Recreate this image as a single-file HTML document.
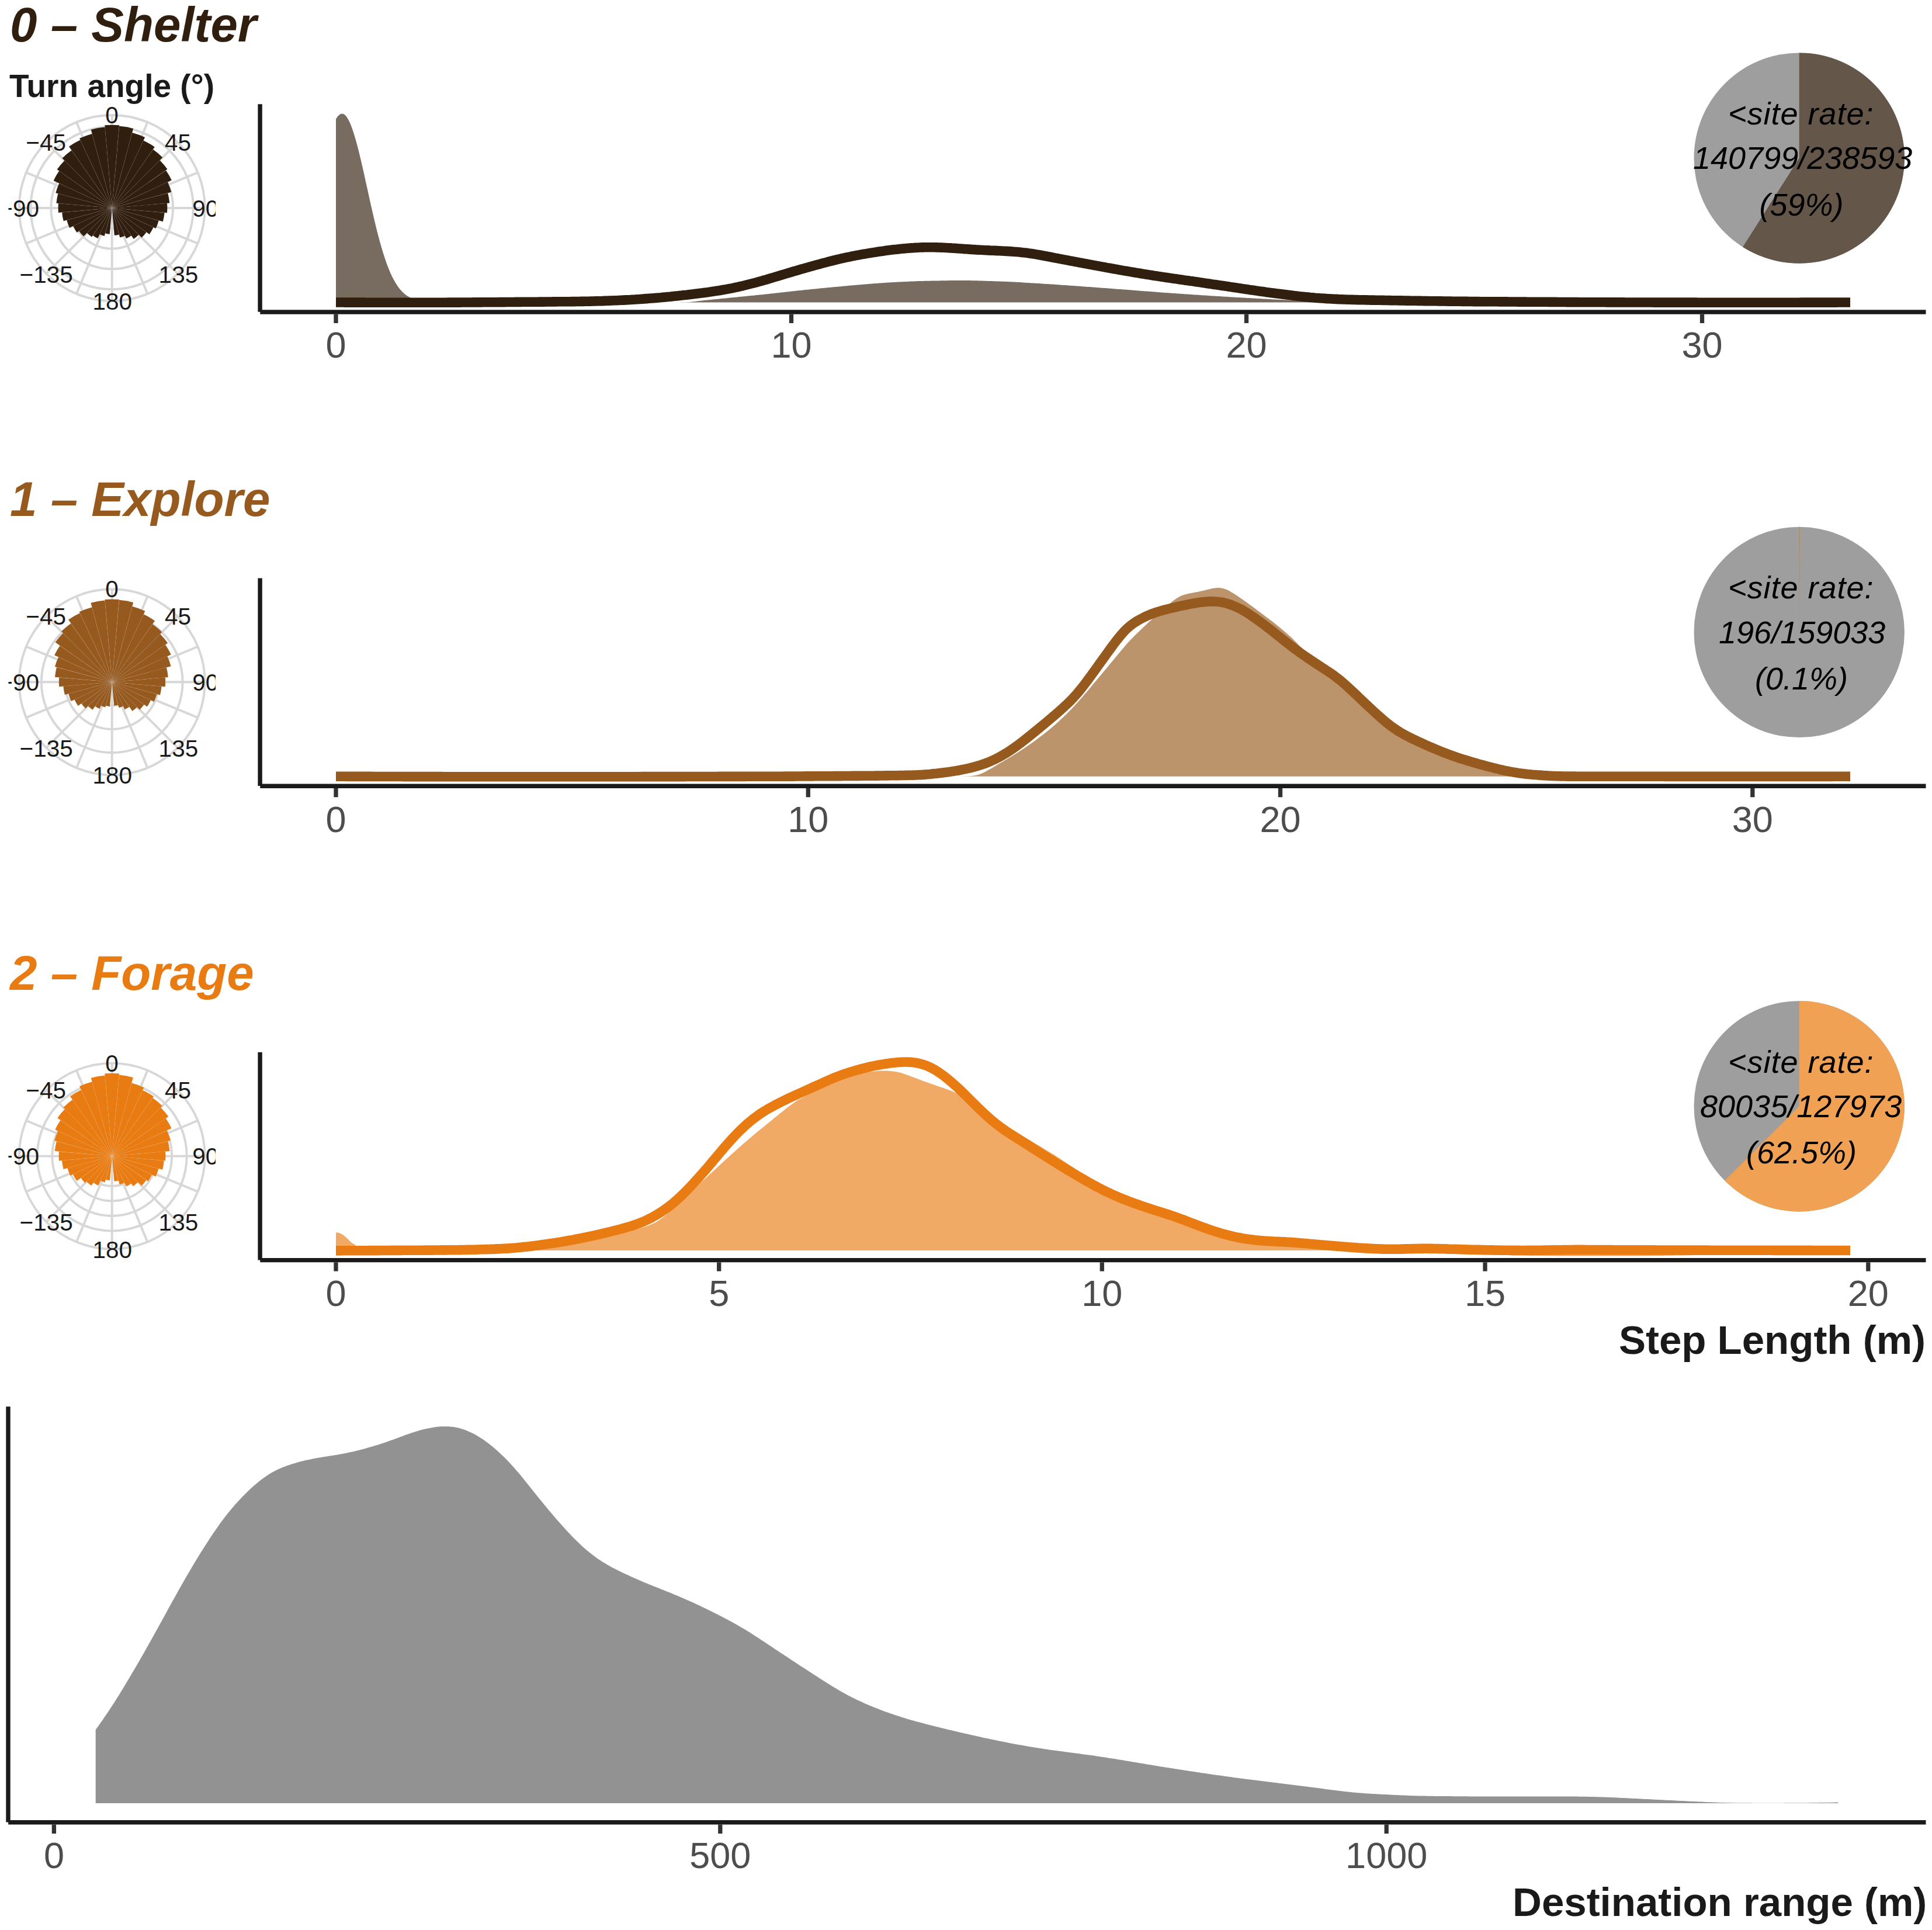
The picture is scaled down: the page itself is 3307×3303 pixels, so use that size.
<!DOCTYPE html>
<html><head><meta charset="utf-8"><title>chart</title>
<style>html,body{margin:0;padding:0;background:#fff}svg{display:block}text{font-family:"Liberation Sans",sans-serif}</style>
</head><body>
<svg width="3307" height="3303" viewBox="0 0 3307 3303">
<defs><clipPath id="pc0"><rect x="14.5" y="170.0" width="354.5" height="390"/></clipPath><clipPath id="pc1"><rect x="14.5" y="981.3" width="354.5" height="390"/></clipPath><clipPath id="pc2"><rect x="14.5" y="1792.6" width="354.5" height="390"/></clipPath></defs>
<rect width="3307" height="3303" fill="#fff"/>
<path d="M575.0,517.5 L575.0,203.8 L578.0,199.2 L581.0,196.2 L584.0,194.7 L587.0,194.7 L590.0,196.3 L593.0,199.5 L596.0,204.2 L599.0,210.3 L602.0,217.7 L605.0,226.4 L608.0,236.2 L611.0,247.0 L614.0,258.6 L617.0,270.9 L620.0,283.8 L623.0,297.1 L626.0,310.7 L629.0,324.3 L632.0,338.0 L635.0,351.4 L638.0,364.6 L641.0,377.5 L644.0,389.9 L647.0,401.7 L650.0,413.0 L653.0,423.6 L656.0,433.6 L659.0,442.8 L662.0,451.4 L665.0,459.3 L668.0,466.5 L671.0,473.0 L674.0,478.8 L677.0,484.1 L680.0,488.8 L683.0,492.9 L686.0,496.6 L689.0,499.8 L692.0,502.5 L695.0,505.0 L698.0,507.0 L701.0,508.8 L704.0,510.3 L707.0,511.6 L710.0,512.6 L713.0,513.5 L716.0,514.3 L719.0,514.9 L722.0,515.4 L725.0,515.8 L728.0,516.2 L731.0,516.5 L734.0,516.7 L737.0,516.9 L740.0,517.0 L743.0,517.1 L746.0,517.2 L749.0,517.3 L752.0,517.3 L755.0,517.4 L758.0,517.4 L761.0,517.4 L764.0,517.4 L767.0,517.5 L770.0,517.5 L773.0,517.5 L776.0,517.5 L779.0,517.5 L782.0,517.5 L785.0,517.5 L788.0,517.5 L791.0,517.5 L794.0,517.5 L797.0,517.5 L800.0,517.5 L803.0,517.5 L806.0,517.5 L809.0,517.5 L812.0,517.5 L815.0,517.5 L818.0,517.5 L821.0,517.5 L824.0,517.5 L827.0,517.5 L830.0,517.5 L833.0,517.5 L836.0,517.5 L839.0,517.5 L842.0,517.5 L845.0,517.5 L848.0,517.5 L851.0,517.5 L854.0,517.5 L857.0,517.5 L860.0,517.5 L863.0,517.5 L866.0,517.5 L869.0,517.5 L872.0,517.5 L875.0,517.5 L878.0,517.5 L881.0,517.5 L884.0,517.5 L887.0,517.5 L890.0,517.5 L893.0,517.5 L896.0,517.5 L899.0,517.5 L902.0,517.5 L905.0,517.5 L908.0,517.5 L911.0,517.5 L914.0,517.5 L917.0,517.5 L920.0,517.5 L923.0,517.5 L926.0,517.5 L929.0,517.5 L932.0,517.5 L935.0,517.5 L938.0,517.5 L941.0,517.5 L944.0,517.5 L947.0,517.5 L950.0,517.5 L953.0,517.5 L956.0,517.5 L959.0,517.5 L962.0,517.5 L965.0,517.5 L968.0,517.5 L971.0,517.5 L974.0,517.5 L977.0,517.5 L980.0,517.5 L983.0,517.5 L986.0,517.5 L989.0,517.5 L992.0,517.5 L995.0,517.5 L998.0,517.5 L1001.0,517.5 L1004.0,517.5 L1007.0,517.5 L1010.0,517.5 L1013.0,517.5 L1016.0,517.5 L1019.0,517.5 L1022.0,517.5 L1025.0,517.5 L1028.0,517.5 L1031.0,517.5 L1034.0,517.5 L1037.0,517.5 L1040.0,517.5 L1043.0,517.5 L1046.0,517.5 L1049.0,517.5 L1052.0,517.5 L1055.0,517.5 L1058.0,517.5 L1061.0,517.5 L1064.0,517.5 L1067.0,517.5 L1070.0,517.5 L1073.0,517.5 L1076.0,517.5 L1079.0,517.5 L1082.0,517.5 L1085.0,517.5 L1088.0,517.5 L1091.0,517.5 L1094.0,517.5 L1097.0,517.5 L1100.0,517.5 L1103.0,517.5 L1106.0,517.5 L1109.0,517.5 L1112.0,517.5 L1115.0,517.5 L1118.0,517.5 L1121.0,517.5 L1124.0,517.5 L1127.0,517.5 L1130.0,517.5 L1133.0,517.5 L1136.0,517.5 L1139.0,517.4 L1142.0,517.4 L1145.0,517.4 L1148.0,517.4 L1151.0,517.4 L1154.0,517.4 L1157.0,517.4 L1160.0,517.4 L1163.0,517.4 L1166.0,517.3 L1169.0,517.3 L1172.0,517.3 L1175.0,517.3 L1178.0,517.1 L1181.0,516.9 L1184.0,516.6 L1187.0,516.3 L1190.0,516.0 L1193.0,515.6 L1196.0,515.2 L1199.0,514.8 L1202.0,514.4 L1205.0,514.1 L1208.0,513.8 L1211.0,513.5 L1214.0,513.2 L1217.0,512.9 L1220.0,512.6 L1223.0,512.3 L1226.0,512.0 L1229.0,511.7 L1232.0,511.4 L1235.0,511.1 L1238.0,510.8 L1241.0,510.5 L1244.0,510.2 L1247.0,509.9 L1250.0,509.6 L1253.0,509.3 L1256.0,509.0 L1259.0,508.7 L1262.0,508.4 L1265.0,508.1 L1268.0,507.8 L1271.0,507.5 L1274.0,507.2 L1277.0,506.9 L1280.0,506.6 L1283.0,506.3 L1286.0,506.0 L1289.0,505.7 L1292.0,505.4 L1295.0,505.1 L1298.0,504.8 L1301.0,504.5 L1304.0,504.2 L1307.0,503.9 L1310.0,503.5 L1313.0,503.2 L1316.0,502.9 L1319.0,502.6 L1322.0,502.2 L1325.0,501.9 L1328.0,501.6 L1331.0,501.2 L1334.0,500.9 L1337.0,500.5 L1340.0,500.2 L1343.0,499.9 L1346.0,499.5 L1349.0,499.2 L1352.0,498.9 L1355.0,498.6 L1358.0,498.2 L1361.0,497.9 L1364.0,497.6 L1367.0,497.3 L1370.0,497.0 L1373.0,496.7 L1376.0,496.3 L1379.0,496.0 L1382.0,495.7 L1385.0,495.4 L1388.0,495.1 L1391.0,494.8 L1394.0,494.5 L1397.0,494.2 L1400.0,493.9 L1403.0,493.6 L1406.0,493.3 L1409.0,493.0 L1412.0,492.7 L1415.0,492.4 L1418.0,492.1 L1421.0,491.9 L1424.0,491.6 L1427.0,491.3 L1430.0,491.0 L1433.0,490.7 L1436.0,490.5 L1439.0,490.2 L1442.0,489.9 L1445.0,489.6 L1448.0,489.4 L1451.0,489.1 L1454.0,488.8 L1457.0,488.5 L1460.0,488.3 L1463.0,488.0 L1466.0,487.7 L1469.0,487.5 L1472.0,487.2 L1475.0,487.0 L1478.0,486.7 L1481.0,486.5 L1484.0,486.2 L1487.0,486.0 L1490.0,485.7 L1493.0,485.5 L1496.0,485.3 L1499.0,485.1 L1502.0,484.9 L1505.0,484.6 L1508.0,484.4 L1511.0,484.2 L1514.0,484.0 L1517.0,483.8 L1520.0,483.6 L1523.0,483.4 L1526.0,483.3 L1529.0,483.1 L1532.0,482.9 L1535.0,482.8 L1538.0,482.6 L1541.0,482.5 L1544.0,482.3 L1547.0,482.2 L1550.0,482.0 L1553.0,481.9 L1556.0,481.7 L1559.0,481.6 L1562.0,481.5 L1565.0,481.4 L1568.0,481.2 L1571.0,481.1 L1574.0,481.1 L1577.0,481.0 L1580.0,480.9 L1583.0,480.8 L1586.0,480.8 L1589.0,480.7 L1592.0,480.7 L1595.0,480.6 L1598.0,480.5 L1601.0,480.5 L1604.0,480.4 L1607.0,480.4 L1610.0,480.3 L1613.0,480.3 L1616.0,480.2 L1619.0,480.2 L1622.0,480.2 L1625.0,480.1 L1628.0,480.1 L1631.0,480.1 L1634.0,480.0 L1637.0,480.0 L1640.0,480.0 L1643.0,480.0 L1646.0,480.0 L1649.0,480.0 L1652.0,480.0 L1655.0,480.0 L1658.0,480.1 L1661.0,480.1 L1664.0,480.2 L1667.0,480.2 L1670.0,480.3 L1673.0,480.3 L1676.0,480.4 L1679.0,480.5 L1682.0,480.6 L1685.0,480.7 L1688.0,480.8 L1691.0,480.9 L1694.0,481.0 L1697.0,481.1 L1700.0,481.2 L1703.0,481.3 L1706.0,481.4 L1709.0,481.5 L1712.0,481.6 L1715.0,481.7 L1718.0,481.8 L1721.0,481.9 L1724.0,482.1 L1727.0,482.2 L1730.0,482.3 L1733.0,482.5 L1736.0,482.6 L1739.0,482.8 L1742.0,483.0 L1745.0,483.1 L1748.0,483.3 L1751.0,483.5 L1754.0,483.7 L1757.0,483.9 L1760.0,484.0 L1763.0,484.2 L1766.0,484.4 L1769.0,484.6 L1772.0,484.8 L1775.0,484.9 L1778.0,485.1 L1781.0,485.3 L1784.0,485.5 L1787.0,485.7 L1790.0,485.9 L1793.0,486.1 L1796.0,486.2 L1799.0,486.4 L1802.0,486.6 L1805.0,486.8 L1808.0,487.0 L1811.0,487.2 L1814.0,487.4 L1817.0,487.7 L1820.0,487.9 L1823.0,488.1 L1826.0,488.3 L1829.0,488.5 L1832.0,488.7 L1835.0,488.9 L1838.0,489.1 L1841.0,489.4 L1844.0,489.6 L1847.0,489.8 L1850.0,490.0 L1853.0,490.2 L1856.0,490.5 L1859.0,490.7 L1862.0,490.9 L1865.0,491.1 L1868.0,491.3 L1871.0,491.6 L1874.0,491.8 L1877.0,492.0 L1880.0,492.2 L1883.0,492.4 L1886.0,492.7 L1889.0,492.9 L1892.0,493.1 L1895.0,493.3 L1898.0,493.6 L1901.0,493.8 L1904.0,494.0 L1907.0,494.2 L1910.0,494.4 L1913.0,494.7 L1916.0,494.9 L1919.0,495.1 L1922.0,495.4 L1925.0,495.6 L1928.0,495.8 L1931.0,496.0 L1934.0,496.3 L1937.0,496.5 L1940.0,496.7 L1943.0,497.0 L1946.0,497.2 L1949.0,497.5 L1952.0,497.7 L1955.0,497.9 L1958.0,498.2 L1961.0,498.4 L1964.0,498.6 L1967.0,498.8 L1970.0,499.1 L1973.0,499.3 L1976.0,499.5 L1979.0,499.8 L1982.0,500.0 L1985.0,500.2 L1988.0,500.4 L1991.0,500.7 L1994.0,500.9 L1997.0,501.1 L2000.0,501.3 L2003.0,501.5 L2006.0,501.7 L2009.0,501.9 L2012.0,502.1 L2015.0,502.4 L2018.0,502.6 L2021.0,502.8 L2024.0,503.0 L2027.0,503.2 L2030.0,503.4 L2033.0,503.6 L2036.0,503.8 L2039.0,504.0 L2042.0,504.2 L2045.0,504.4 L2048.0,504.6 L2051.0,504.8 L2054.0,505.0 L2057.0,505.2 L2060.0,505.4 L2063.0,505.6 L2066.0,505.8 L2069.0,506.0 L2072.0,506.2 L2075.0,506.4 L2078.0,506.6 L2081.0,506.7 L2084.0,506.9 L2087.0,507.1 L2090.0,507.3 L2093.0,507.5 L2096.0,507.7 L2099.0,507.8 L2102.0,508.0 L2105.0,508.2 L2108.0,508.4 L2111.0,508.6 L2114.0,508.7 L2117.0,508.9 L2120.0,509.1 L2123.0,509.3 L2126.0,509.4 L2129.0,509.6 L2132.0,509.8 L2135.0,510.0 L2138.0,510.1 L2141.0,510.3 L2144.0,510.5 L2147.0,510.6 L2150.0,510.8 L2153.0,511.0 L2156.0,511.1 L2159.0,511.3 L2162.0,511.5 L2165.0,511.6 L2168.0,511.8 L2171.0,511.9 L2174.0,512.1 L2177.0,512.2 L2180.0,512.4 L2183.0,512.5 L2186.0,512.7 L2189.0,512.8 L2192.0,512.9 L2195.0,513.1 L2198.0,513.2 L2201.0,513.3 L2204.0,513.5 L2207.0,513.6 L2210.0,513.7 L2213.0,513.9 L2216.0,514.0 L2219.0,514.1 L2222.0,514.2 L2225.0,514.4 L2228.0,514.5 L2231.0,514.6 L2234.0,514.7 L2237.0,514.8 L2240.0,515.0 L2243.0,515.1 L2246.0,515.2 L2249.0,515.3 L2252.0,515.4 L2255.0,515.5 L2258.0,515.6 L2261.0,515.7 L2264.0,515.8 L2267.0,515.9 L2270.0,516.0 L2273.0,516.1 L2276.0,516.2 L2279.0,516.2 L2282.0,516.3 L2285.0,516.4 L2288.0,516.5 L2291.0,516.5 L2294.0,516.6 L2297.0,516.6 L2300.0,516.7 L2303.0,516.8 L2306.0,516.8 L2309.0,516.9 L2312.0,516.9 L2315.0,517.0 L2318.0,517.1 L2321.0,517.1 L2324.0,517.2 L2327.0,517.2 L2330.0,517.3 L2333.0,517.3 L2336.0,517.3 L2339.0,517.4 L2342.0,517.4 L2345.0,517.4 L2348.0,517.5 L2351.0,517.5 L2354.0,517.5 L2357.0,517.5 L2360.0,517.5 L2363.0,517.5 L2366.0,517.5 L2369.0,517.5 L2372.0,517.5 L2375.0,517.5 L2378.0,517.5 L2381.0,517.5 L2384.0,517.5 L2387.0,517.5 L2390.0,517.5 L2393.0,517.5 L2396.0,517.5 L2399.0,517.5 L2402.0,517.5 L2405.0,517.5 L2408.0,517.5 L2411.0,517.5 L2414.0,517.5 L2417.0,517.5 L2420.0,517.5 L2423.0,517.5 L2426.0,517.5 L2429.0,517.5 L2432.0,517.5 L2435.0,517.5 L2438.0,517.5 L2441.0,517.5 L2444.0,517.5 L2447.0,517.5 L2450.0,517.5 L2453.0,517.5 L2456.0,517.5 L2459.0,517.5 L2462.0,517.5 L2465.0,517.5 L2468.0,517.5 L2471.0,517.5 L2474.0,517.5 L2477.0,517.5 L2480.0,517.5 L2483.0,517.5 L2486.0,517.5 L2489.0,517.5 L2492.0,517.5 L2495.0,517.5 L2498.0,517.5 L2501.0,517.5 L2504.0,517.5 L2507.0,517.5 L2510.0,517.5 L2513.0,517.5 L2516.0,517.5 L2519.0,517.5 L2522.0,517.5 L2525.0,517.5 L2528.0,517.5 L2531.0,517.5 L2534.0,517.5 L2537.0,517.5 L2540.0,517.5 L2543.0,517.5 L2546.0,517.5 L2549.0,517.5 L2552.0,517.5 L2555.0,517.5 L2558.0,517.5 L2561.0,517.5 L2564.0,517.5 L2567.0,517.5 L2570.0,517.5 L2573.0,517.5 L2576.0,517.5 L2579.0,517.5 L2582.0,517.5 L2585.0,517.5 L2588.0,517.5 L2591.0,517.5 L2594.0,517.5 L2597.0,517.5 L2600.0,517.5 L2603.0,517.5 L2606.0,517.5 L2609.0,517.5 L2612.0,517.5 L2615.0,517.5 L2618.0,517.5 L2621.0,517.5 L2624.0,517.5 L2627.0,517.5 L2630.0,517.5 L2633.0,517.5 L2636.0,517.5 L2639.0,517.5 L2642.0,517.5 L2645.0,517.5 L2648.0,517.5 L2651.0,517.5 L2654.0,517.5 L2657.0,517.5 L2660.0,517.5 L2663.0,517.5 L2666.0,517.5 L2669.0,517.5 L2672.0,517.5 L2675.0,517.5 L2678.0,517.5 L2681.0,517.5 L2684.0,517.5 L2687.0,517.5 L2690.0,517.5 L2693.0,517.5 L2696.0,517.5 L2699.0,517.5 L2702.0,517.5 L2705.0,517.5 L2708.0,517.5 L2711.0,517.5 L2714.0,517.5 L2717.0,517.5 L2720.0,517.5 L2723.0,517.5 L2726.0,517.5 L2729.0,517.5 L2732.0,517.5 L2735.0,517.5 L2738.0,517.5 L2741.0,517.5 L2744.0,517.5 L2747.0,517.5 L2750.0,517.5 L2753.0,517.5 L2756.0,517.5 L2759.0,517.5 L2762.0,517.5 L2765.0,517.5 L2768.0,517.5 L2771.0,517.5 L2774.0,517.5 L2777.0,517.5 L2780.0,517.5 L2783.0,517.5 L2786.0,517.5 L2789.0,517.5 L2792.0,517.5 L2795.0,517.5 L2798.0,517.5 L2801.0,517.5 L2804.0,517.5 L2807.0,517.5 L2810.0,517.5 L2813.0,517.5 L2816.0,517.5 L2819.0,517.5 L2822.0,517.5 L2825.0,517.5 L2828.0,517.5 L2831.0,517.5 L2834.0,517.5 L2837.0,517.5 L2840.0,517.5 L2843.0,517.5 L2846.0,517.5 L2849.0,517.5 L2852.0,517.5 L2855.0,517.5 L2858.0,517.5 L2861.0,517.5 L2864.0,517.5 L2867.0,517.5 L2870.0,517.5 L2873.0,517.5 L2876.0,517.5 L2879.0,517.5 L2882.0,517.5 L2885.0,517.5 L2888.0,517.5 L2891.0,517.5 L2894.0,517.5 L2897.0,517.5 L2900.0,517.5 L2903.0,517.5 L2906.0,517.5 L2909.0,517.5 L2912.0,517.5 L2915.0,517.5 L2918.0,517.5 L2921.0,517.5 L2924.0,517.5 L2927.0,517.5 L2930.0,517.5 L2933.0,517.5 L2936.0,517.5 L2939.0,517.5 L2942.0,517.5 L2945.0,517.5 L2948.0,517.5 L2951.0,517.5 L2954.0,517.5 L2957.0,517.5 L2960.0,517.5 L2963.0,517.5 L2966.0,517.5 L2969.0,517.5 L2972.0,517.5 L2975.0,517.5 L2978.0,517.5 L2981.0,517.5 L2984.0,517.5 L2987.0,517.5 L2990.0,517.5 L2993.0,517.5 L2996.0,517.5 L2999.0,517.5 L3002.0,517.5 L3005.0,517.5 L3008.0,517.5 L3011.0,517.5 L3014.0,517.5 L3017.0,517.5 L3020.0,517.5 L3023.0,517.5 L3026.0,517.5 L3029.0,517.5 L3032.0,517.5 L3035.0,517.5 L3038.0,517.5 L3041.0,517.5 L3044.0,517.5 L3047.0,517.5 L3050.0,517.5 L3053.0,517.5 L3056.0,517.5 L3059.0,517.5 L3062.0,517.5 L3065.0,517.5 L3068.0,517.5 L3071.0,517.5 L3074.0,517.5 L3077.0,517.5 L3080.0,517.5 L3083.0,517.5 L3086.0,517.5 L3089.0,517.5 L3092.0,517.5 L3095.0,517.5 L3098.0,517.5 L3101.0,517.5 L3104.0,517.5 L3107.0,517.5 L3110.0,517.5 L3113.0,517.5 L3116.0,517.5 L3119.0,517.5 L3122.0,517.5 L3125.0,517.5 L3128.0,517.5 L3131.0,517.5 L3134.0,517.5 L3137.0,517.5 L3140.0,517.5 L3143.0,517.5 L3146.0,517.5 L3149.0,517.5 L3152.0,517.5 L3155.0,517.5 L3158.0,517.5 L3161.0,517.5 L3164.0,517.5 L3167.0,517.5 L3167.0,517.5Z" fill="#786c60"/>
<path d="M575.0,517.5 L579.0,517.5 L583.0,517.5 L587.0,517.5 L591.0,517.6 L595.0,517.6 L599.0,517.6 L603.0,517.6 L607.0,517.6 L611.0,517.6 L615.0,517.6 L619.0,517.6 L623.0,517.6 L627.0,517.7 L631.0,517.7 L635.0,517.7 L639.0,517.7 L643.0,517.7 L647.0,517.7 L651.0,517.7 L655.0,517.7 L659.0,517.7 L663.0,517.7 L667.0,517.7 L671.0,517.7 L675.0,517.7 L679.0,517.7 L683.0,517.8 L687.0,517.8 L691.0,517.8 L695.0,517.8 L699.0,517.8 L703.0,517.8 L707.0,517.8 L711.0,517.8 L715.0,517.8 L719.0,517.7 L723.0,517.7 L727.0,517.7 L731.0,517.7 L735.0,517.7 L739.0,517.7 L743.0,517.7 L747.0,517.7 L751.0,517.7 L755.0,517.7 L759.0,517.7 L763.0,517.7 L767.0,517.6 L771.0,517.6 L775.0,517.6 L779.0,517.6 L783.0,517.6 L787.0,517.6 L791.0,517.5 L795.0,517.5 L799.0,517.5 L803.0,517.5 L807.0,517.5 L811.0,517.4 L815.0,517.4 L819.0,517.4 L823.0,517.4 L827.0,517.3 L831.0,517.3 L835.0,517.3 L839.0,517.2 L843.0,517.2 L847.0,517.2 L851.0,517.2 L855.0,517.1 L859.0,517.1 L863.0,517.1 L867.0,517.0 L871.0,517.0 L875.0,517.0 L879.0,517.0 L883.0,516.9 L887.0,516.9 L891.0,516.9 L895.0,516.8 L899.0,516.8 L903.0,516.8 L907.0,516.7 L911.0,516.7 L915.0,516.7 L919.0,516.7 L923.0,516.6 L927.0,516.6 L931.0,516.6 L935.0,516.5 L939.0,516.5 L943.0,516.5 L947.0,516.4 L951.0,516.4 L955.0,516.3 L959.0,516.3 L963.0,516.3 L967.0,516.2 L971.0,516.2 L975.0,516.2 L979.0,516.1 L983.0,516.1 L987.0,516.0 L991.0,516.0 L995.0,515.9 L999.0,515.9 L1003.0,515.8 L1007.0,515.7 L1011.0,515.6 L1015.0,515.5 L1019.0,515.4 L1023.0,515.3 L1027.0,515.2 L1031.0,515.1 L1035.0,514.9 L1039.0,514.8 L1043.0,514.6 L1047.0,514.5 L1051.0,514.3 L1055.0,514.2 L1059.0,514.0 L1063.0,513.8 L1067.0,513.6 L1071.0,513.4 L1075.0,513.2 L1079.0,513.0 L1083.0,512.7 L1087.0,512.5 L1091.0,512.2 L1095.0,512.0 L1099.0,511.7 L1103.0,511.4 L1107.0,511.1 L1111.0,510.8 L1115.0,510.5 L1119.0,510.2 L1123.0,509.9 L1127.0,509.5 L1131.0,509.2 L1135.0,508.8 L1139.0,508.4 L1143.0,508.0 L1147.0,507.7 L1151.0,507.2 L1155.0,506.8 L1159.0,506.4 L1163.0,506.0 L1167.0,505.6 L1171.0,505.1 L1175.0,504.7 L1179.0,504.2 L1183.0,503.7 L1187.0,503.3 L1191.0,502.8 L1195.0,502.3 L1199.0,501.8 L1203.0,501.3 L1207.0,500.7 L1211.0,500.2 L1215.0,499.6 L1219.0,499.0 L1223.0,498.4 L1227.0,497.8 L1231.0,497.2 L1235.0,496.5 L1239.0,495.8 L1243.0,495.1 L1247.0,494.3 L1251.0,493.6 L1255.0,492.8 L1259.0,491.9 L1263.0,491.1 L1267.0,490.2 L1271.0,489.3 L1275.0,488.3 L1279.0,487.3 L1283.0,486.3 L1287.0,485.3 L1291.0,484.3 L1295.0,483.2 L1299.0,482.1 L1303.0,481.0 L1307.0,479.8 L1311.0,478.7 L1315.0,477.5 L1319.0,476.3 L1323.0,475.1 L1327.0,473.9 L1331.0,472.7 L1335.0,471.5 L1339.0,470.3 L1343.0,469.1 L1347.0,467.9 L1351.0,466.7 L1355.0,465.5 L1359.0,464.3 L1363.0,463.2 L1367.0,462.0 L1371.0,460.8 L1375.0,459.7 L1379.0,458.6 L1383.0,457.4 L1387.0,456.3 L1391.0,455.2 L1395.0,454.1 L1399.0,453.0 L1403.0,451.9 L1407.0,450.8 L1411.0,449.7 L1415.0,448.7 L1419.0,447.6 L1423.0,446.6 L1427.0,445.6 L1431.0,444.6 L1435.0,443.7 L1439.0,442.7 L1443.0,441.8 L1447.0,440.9 L1451.0,440.1 L1455.0,439.3 L1459.0,438.4 L1463.0,437.7 L1467.0,436.9 L1471.0,436.2 L1475.0,435.4 L1479.0,434.7 L1483.0,434.1 L1487.0,433.4 L1491.0,432.7 L1495.0,432.1 L1499.0,431.5 L1503.0,430.8 L1507.0,430.2 L1511.0,429.7 L1515.0,429.1 L1519.0,428.6 L1523.0,428.1 L1527.0,427.6 L1531.0,427.1 L1535.0,426.7 L1539.0,426.2 L1543.0,425.8 L1547.0,425.4 L1551.0,425.1 L1555.0,424.7 L1559.0,424.4 L1563.0,424.2 L1567.0,423.9 L1571.0,423.7 L1575.0,423.5 L1579.0,423.4 L1583.0,423.3 L1587.0,423.3 L1591.0,423.2 L1595.0,423.3 L1599.0,423.3 L1603.0,423.4 L1607.0,423.5 L1611.0,423.6 L1615.0,423.8 L1619.0,424.0 L1623.0,424.2 L1627.0,424.4 L1631.0,424.7 L1635.0,424.9 L1639.0,425.2 L1643.0,425.5 L1647.0,425.8 L1651.0,426.1 L1655.0,426.3 L1659.0,426.6 L1663.0,426.9 L1667.0,427.1 L1671.0,427.4 L1675.0,427.6 L1679.0,427.8 L1683.0,428.0 L1687.0,428.2 L1691.0,428.4 L1695.0,428.6 L1699.0,428.7 L1703.0,428.9 L1707.0,429.1 L1711.0,429.3 L1715.0,429.5 L1719.0,429.7 L1723.0,429.9 L1727.0,430.1 L1731.0,430.4 L1735.0,430.7 L1739.0,431.0 L1743.0,431.3 L1747.0,431.7 L1751.0,432.2 L1755.0,432.6 L1759.0,433.1 L1763.0,433.7 L1767.0,434.3 L1771.0,434.9 L1775.0,435.6 L1779.0,436.3 L1783.0,437.0 L1787.0,437.8 L1791.0,438.5 L1795.0,439.3 L1799.0,440.0 L1803.0,440.8 L1807.0,441.6 L1811.0,442.3 L1815.0,443.1 L1819.0,443.9 L1823.0,444.6 L1827.0,445.4 L1831.0,446.2 L1835.0,446.9 L1839.0,447.7 L1843.0,448.4 L1847.0,449.2 L1851.0,449.9 L1855.0,450.7 L1859.0,451.4 L1863.0,452.2 L1867.0,452.9 L1871.0,453.7 L1875.0,454.4 L1879.0,455.1 L1883.0,455.9 L1887.0,456.6 L1891.0,457.3 L1895.0,458.1 L1899.0,458.8 L1903.0,459.5 L1907.0,460.2 L1911.0,460.9 L1915.0,461.7 L1919.0,462.4 L1923.0,463.1 L1927.0,463.7 L1931.0,464.4 L1935.0,465.1 L1939.0,465.8 L1943.0,466.5 L1947.0,467.1 L1951.0,467.8 L1955.0,468.5 L1959.0,469.1 L1963.0,469.8 L1967.0,470.4 L1971.0,471.0 L1975.0,471.7 L1979.0,472.3 L1983.0,472.9 L1987.0,473.5 L1991.0,474.1 L1995.0,474.7 L1999.0,475.3 L2003.0,475.9 L2007.0,476.5 L2011.0,477.1 L2015.0,477.6 L2019.0,478.2 L2023.0,478.8 L2027.0,479.4 L2031.0,479.9 L2035.0,480.5 L2039.0,481.1 L2043.0,481.6 L2047.0,482.2 L2051.0,482.8 L2055.0,483.4 L2059.0,484.0 L2063.0,484.6 L2067.0,485.2 L2071.0,485.8 L2075.0,486.4 L2079.0,486.9 L2083.0,487.5 L2087.0,488.1 L2091.0,488.7 L2095.0,489.3 L2099.0,489.9 L2103.0,490.5 L2107.0,491.1 L2111.0,491.7 L2115.0,492.3 L2119.0,492.9 L2123.0,493.5 L2127.0,494.1 L2131.0,494.7 L2135.0,495.3 L2139.0,495.9 L2143.0,496.4 L2147.0,497.0 L2151.0,497.6 L2155.0,498.2 L2159.0,498.7 L2163.0,499.3 L2167.0,499.9 L2171.0,500.4 L2175.0,501.0 L2179.0,501.5 L2183.0,502.0 L2187.0,502.6 L2191.0,503.1 L2195.0,503.6 L2199.0,504.1 L2203.0,504.6 L2207.0,505.1 L2211.0,505.6 L2215.0,506.1 L2219.0,506.5 L2223.0,507.0 L2227.0,507.4 L2231.0,507.8 L2235.0,508.2 L2239.0,508.6 L2243.0,509.0 L2247.0,509.3 L2251.0,509.7 L2255.0,510.0 L2259.0,510.3 L2263.0,510.5 L2267.0,510.8 L2271.0,511.1 L2275.0,511.3 L2279.0,511.5 L2283.0,511.7 L2287.0,511.9 L2291.0,512.1 L2295.0,512.2 L2299.0,512.4 L2303.0,512.5 L2307.0,512.7 L2311.0,512.8 L2315.0,512.9 L2319.0,513.0 L2323.0,513.1 L2327.0,513.2 L2331.0,513.3 L2335.0,513.3 L2339.0,513.4 L2343.0,513.5 L2347.0,513.6 L2351.0,513.6 L2355.0,513.7 L2359.0,513.8 L2363.0,513.8 L2367.0,513.9 L2371.0,514.0 L2375.0,514.0 L2379.0,514.1 L2383.0,514.2 L2387.0,514.2 L2391.0,514.3 L2395.0,514.4 L2399.0,514.4 L2403.0,514.5 L2407.0,514.6 L2411.0,514.6 L2415.0,514.7 L2419.0,514.8 L2423.0,514.8 L2427.0,514.9 L2431.0,514.9 L2435.0,515.0 L2439.0,515.1 L2443.0,515.1 L2447.0,515.2 L2451.0,515.2 L2455.0,515.3 L2459.0,515.3 L2463.0,515.4 L2467.0,515.4 L2471.0,515.5 L2475.0,515.5 L2479.0,515.6 L2483.0,515.6 L2487.0,515.7 L2491.0,515.7 L2495.0,515.8 L2499.0,515.8 L2503.0,515.9 L2507.0,515.9 L2511.0,515.9 L2515.0,516.0 L2519.0,516.0 L2523.0,516.1 L2527.0,516.1 L2531.0,516.1 L2535.0,516.2 L2539.0,516.2 L2543.0,516.2 L2547.0,516.2 L2551.0,516.3 L2555.0,516.3 L2559.0,516.3 L2563.0,516.3 L2567.0,516.4 L2571.0,516.4 L2575.0,516.4 L2579.0,516.4 L2583.0,516.5 L2587.0,516.5 L2591.0,516.5 L2595.0,516.5 L2599.0,516.6 L2603.0,516.6 L2607.0,516.6 L2611.0,516.6 L2615.0,516.7 L2619.0,516.7 L2623.0,516.7 L2627.0,516.7 L2631.0,516.8 L2635.0,516.8 L2639.0,516.8 L2643.0,516.8 L2647.0,516.8 L2651.0,516.9 L2655.0,516.9 L2659.0,516.9 L2663.0,516.9 L2667.0,517.0 L2671.0,517.0 L2675.0,517.0 L2679.0,517.0 L2683.0,517.1 L2687.0,517.1 L2691.0,517.1 L2695.0,517.1 L2699.0,517.1 L2703.0,517.2 L2707.0,517.2 L2711.0,517.2 L2715.0,517.2 L2719.0,517.2 L2723.0,517.2 L2727.0,517.3 L2731.0,517.3 L2735.0,517.3 L2739.0,517.3 L2743.0,517.3 L2747.0,517.3 L2751.0,517.4 L2755.0,517.4 L2759.0,517.4 L2763.0,517.4 L2767.0,517.4 L2771.0,517.4 L2775.0,517.4 L2779.0,517.4 L2783.0,517.5 L2787.0,517.5 L2791.0,517.5 L2795.0,517.5 L2799.0,517.5 L2803.0,517.5 L2807.0,517.5 L2811.0,517.5 L2815.0,517.5 L2819.0,517.5 L2823.0,517.5 L2827.0,517.5 L2831.0,517.6 L2835.0,517.6 L2839.0,517.6 L2843.0,517.6 L2847.0,517.6 L2851.0,517.6 L2855.0,517.6 L2859.0,517.6 L2863.0,517.6 L2867.0,517.6 L2871.0,517.6 L2875.0,517.6 L2879.0,517.6 L2883.0,517.6 L2887.0,517.6 L2891.0,517.6 L2895.0,517.6 L2899.0,517.6 L2903.0,517.6 L2907.0,517.7 L2911.0,517.7 L2915.0,517.7 L2919.0,517.7 L2923.0,517.7 L2927.0,517.7 L2931.0,517.7 L2935.0,517.7 L2939.0,517.7 L2943.0,517.7 L2947.0,517.7 L2951.0,517.7 L2955.0,517.7 L2959.0,517.7 L2963.0,517.7 L2967.0,517.7 L2971.0,517.7 L2975.0,517.7 L2979.0,517.7 L2983.0,517.7 L2987.0,517.7 L2991.0,517.7 L2995.0,517.7 L2999.0,517.7 L3003.0,517.7 L3007.0,517.7 L3011.0,517.7 L3015.0,517.7 L3019.0,517.7 L3023.0,517.7 L3027.0,517.7 L3031.0,517.7 L3035.0,517.7 L3039.0,517.7 L3043.0,517.7 L3047.0,517.7 L3051.0,517.7 L3055.0,517.7 L3059.0,517.7 L3063.0,517.7 L3067.0,517.7 L3071.0,517.7 L3075.0,517.7 L3079.0,517.7 L3083.0,517.6 L3087.0,517.6 L3091.0,517.6 L3095.0,517.6 L3099.0,517.6 L3103.0,517.6 L3107.0,517.6 L3111.0,517.6 L3115.0,517.6 L3119.0,517.6 L3123.0,517.6 L3127.0,517.6 L3131.0,517.6 L3135.0,517.6 L3139.0,517.6 L3143.0,517.6 L3147.0,517.5 L3151.0,517.5 L3155.0,517.5 L3159.0,517.5 L3163.0,517.5 L3167.0,517.5" fill="none" stroke="#301e0f" stroke-width="16.6" stroke-linejoin="round"/>
<path d="M445.1,178.2 V533.8" stroke="#1a1a1a" stroke-width="7.4" fill="none"/>
<path d="M445.3,534.0 H3296.5" stroke="#1a1a1a" stroke-width="7.4" fill="none"/>
<path d="M575.0,537.7 v15.3" stroke="#333333" stroke-width="7.3" fill="none"/>
<text x="575.0" y="612.3" font-size="63" fill="#4d4d4d" text-anchor="middle">0</text>
<path d="M1354.5,537.7 v15.3" stroke="#333333" stroke-width="7.3" fill="none"/>
<text x="1354.5" y="612.3" font-size="63" fill="#4d4d4d" text-anchor="middle">10</text>
<path d="M2133.5,537.7 v15.3" stroke="#333333" stroke-width="7.3" fill="none"/>
<text x="2133.5" y="612.3" font-size="63" fill="#4d4d4d" text-anchor="middle">20</text>
<path d="M2913.5,537.7 v15.3" stroke="#333333" stroke-width="7.3" fill="none"/>
<text x="2913.5" y="612.3" font-size="63" fill="#4d4d4d" text-anchor="middle">30</text>
<circle cx="3079.7" cy="270.6" r="180.2" fill="#9e9e9e"/>
<path d="M3079.7,270.6 L3079.7,90.4 A180.2,180.2 0 1 1 2983.1,422.7Z" fill="#64574a"/>
<g font-size="54" font-style="italic" fill="#000" text-anchor="middle">
<text x="3082.7" y="213.0" letter-spacing="1">&lt;site rate:</text>
<text x="3085.7" y="289.4">140799/238593</text>
<text x="3083.5" y="368.5">(59%)</text>
</g>
<path d="M575.0,1328.8 L575.0,1328.8 L579.0,1328.8 L583.0,1328.8 L587.0,1328.8 L591.0,1328.9 L595.0,1328.9 L599.0,1328.9 L603.0,1328.9 L607.0,1328.9 L611.0,1328.9 L615.0,1328.9 L619.0,1329.0 L623.0,1329.0 L627.0,1329.0 L631.0,1329.0 L635.0,1329.0 L639.0,1329.0 L643.0,1329.0 L647.0,1329.0 L651.0,1329.1 L655.0,1329.1 L659.0,1329.1 L663.0,1329.1 L667.0,1329.1 L671.0,1329.1 L675.0,1329.1 L679.0,1329.1 L683.0,1329.1 L687.0,1329.1 L691.0,1329.2 L695.0,1329.2 L699.0,1329.2 L703.0,1329.2 L707.0,1329.2 L711.0,1329.2 L715.0,1329.2 L719.0,1329.2 L723.0,1329.2 L727.0,1329.2 L731.0,1329.2 L735.0,1329.2 L739.0,1329.2 L743.0,1329.3 L747.0,1329.3 L751.0,1329.3 L755.0,1329.3 L759.0,1329.3 L763.0,1329.3 L767.0,1329.3 L771.0,1329.3 L775.0,1329.3 L779.0,1329.3 L783.0,1329.3 L787.0,1329.3 L791.0,1329.3 L795.0,1329.3 L799.0,1329.3 L803.0,1329.3 L807.0,1329.3 L811.0,1329.3 L815.0,1329.3 L819.0,1329.4 L823.0,1329.4 L827.0,1329.4 L831.0,1329.4 L835.0,1329.4 L839.0,1329.4 L843.0,1329.4 L847.0,1329.4 L851.0,1329.4 L855.0,1329.4 L859.0,1329.4 L863.0,1329.4 L867.0,1329.4 L871.0,1329.4 L875.0,1329.4 L879.0,1329.4 L883.0,1329.4 L887.0,1329.4 L891.0,1329.4 L895.0,1329.4 L899.0,1329.4 L903.0,1329.4 L907.0,1329.4 L911.0,1329.4 L915.0,1329.4 L919.0,1329.4 L923.0,1329.4 L927.0,1329.4 L931.0,1329.4 L935.0,1329.4 L939.0,1329.4 L943.0,1329.4 L947.0,1329.4 L951.0,1329.4 L955.0,1329.4 L959.0,1329.4 L963.0,1329.4 L967.0,1329.4 L971.0,1329.4 L975.0,1329.4 L979.0,1329.4 L983.0,1329.4 L987.0,1329.4 L991.0,1329.4 L995.0,1329.4 L999.0,1329.4 L1003.0,1329.4 L1007.0,1329.4 L1011.0,1329.4 L1015.0,1329.4 L1019.0,1329.4 L1023.0,1329.4 L1027.0,1329.4 L1031.0,1329.4 L1035.0,1329.4 L1039.0,1329.3 L1043.0,1329.3 L1047.0,1329.3 L1051.0,1329.3 L1055.0,1329.3 L1059.0,1329.3 L1063.0,1329.3 L1067.0,1329.3 L1071.0,1329.3 L1075.0,1329.3 L1079.0,1329.3 L1083.0,1329.3 L1087.0,1329.3 L1091.0,1329.3 L1095.0,1329.3 L1099.0,1329.3 L1103.0,1329.3 L1107.0,1329.3 L1111.0,1329.3 L1115.0,1329.3 L1119.0,1329.3 L1123.0,1329.3 L1127.0,1329.3 L1131.0,1329.3 L1135.0,1329.3 L1139.0,1329.3 L1143.0,1329.3 L1147.0,1329.2 L1151.0,1329.2 L1155.0,1329.2 L1159.0,1329.2 L1163.0,1329.2 L1167.0,1329.2 L1171.0,1329.2 L1175.0,1329.2 L1179.0,1329.2 L1183.0,1329.2 L1187.0,1329.2 L1191.0,1329.2 L1195.0,1329.2 L1199.0,1329.2 L1203.0,1329.2 L1207.0,1329.2 L1211.0,1329.2 L1215.0,1329.2 L1219.0,1329.2 L1223.0,1329.2 L1227.0,1329.2 L1231.0,1329.1 L1235.0,1329.1 L1239.0,1329.1 L1243.0,1329.1 L1247.0,1329.1 L1251.0,1329.1 L1255.0,1329.1 L1259.0,1329.1 L1263.0,1329.1 L1267.0,1329.1 L1271.0,1329.1 L1275.0,1329.1 L1279.0,1329.1 L1283.0,1329.1 L1287.0,1329.1 L1291.0,1329.1 L1295.0,1329.1 L1299.0,1329.1 L1303.0,1329.1 L1307.0,1329.0 L1311.0,1329.0 L1315.0,1329.0 L1319.0,1329.0 L1323.0,1329.0 L1327.0,1329.0 L1331.0,1329.0 L1335.0,1329.0 L1339.0,1329.0 L1343.0,1329.0 L1347.0,1329.0 L1351.0,1329.0 L1355.0,1329.0 L1359.0,1329.0 L1363.0,1329.0 L1367.0,1329.0 L1371.0,1329.0 L1375.0,1329.0 L1379.0,1329.0 L1383.0,1329.0 L1387.0,1329.0 L1391.0,1328.9 L1395.0,1328.9 L1399.0,1328.9 L1403.0,1328.9 L1407.0,1328.9 L1411.0,1328.9 L1415.0,1328.9 L1419.0,1328.9 L1423.0,1328.9 L1427.0,1328.9 L1431.0,1328.9 L1435.0,1328.9 L1439.0,1328.9 L1443.0,1328.9 L1447.0,1328.9 L1451.0,1328.9 L1455.0,1328.9 L1459.0,1328.9 L1463.0,1328.9 L1467.0,1328.9 L1471.0,1328.9 L1475.0,1328.9 L1479.0,1328.9 L1483.0,1328.9 L1487.0,1328.9 L1491.0,1328.9 L1495.0,1328.8 L1499.0,1328.8 L1503.0,1328.8 L1507.0,1328.8 L1511.0,1328.8 L1515.0,1328.8 L1519.0,1328.8 L1523.0,1328.8 L1527.0,1328.8 L1531.0,1328.8 L1535.0,1328.8 L1539.0,1328.8 L1543.0,1328.8 L1547.0,1328.8 L1551.0,1328.8 L1555.0,1328.8 L1559.0,1328.8 L1563.0,1328.8 L1567.0,1328.8 L1571.0,1328.8 L1575.0,1328.8 L1579.0,1328.8 L1583.0,1328.8 L1587.0,1328.8 L1591.0,1328.8 L1595.0,1328.8 L1599.0,1328.8 L1603.0,1328.8 L1607.0,1328.8 L1611.0,1328.8 L1615.0,1328.8 L1619.0,1328.8 L1623.0,1328.8 L1627.0,1328.8 L1631.0,1328.8 L1635.0,1328.8 L1639.0,1328.8 L1643.0,1328.7 L1647.0,1328.7 L1651.0,1328.6 L1655.0,1328.5 L1659.0,1328.3 L1663.0,1328.0 L1667.0,1327.5 L1671.0,1326.8 L1675.0,1325.7 L1679.0,1324.2 L1683.0,1322.6 L1687.0,1320.5 L1691.0,1318.3 L1695.0,1316.1 L1699.0,1313.7 L1703.0,1311.3 L1707.0,1308.9 L1711.0,1306.5 L1715.0,1304.2 L1719.0,1301.8 L1723.0,1299.4 L1727.0,1297.1 L1731.0,1294.7 L1735.0,1292.2 L1739.0,1289.7 L1743.0,1287.2 L1747.0,1284.6 L1751.0,1281.9 L1755.0,1279.2 L1759.0,1276.5 L1763.0,1273.7 L1767.0,1270.9 L1771.0,1268.0 L1775.0,1265.1 L1779.0,1262.1 L1783.0,1259.1 L1787.0,1256.0 L1791.0,1252.8 L1795.0,1249.6 L1799.0,1246.2 L1803.0,1242.8 L1807.0,1239.3 L1811.0,1235.8 L1815.0,1232.1 L1819.0,1228.3 L1823.0,1224.5 L1827.0,1220.5 L1831.0,1216.5 L1835.0,1212.4 L1839.0,1208.1 L1843.0,1203.8 L1847.0,1199.3 L1851.0,1194.8 L1855.0,1190.1 L1859.0,1185.4 L1863.0,1180.7 L1867.0,1175.9 L1871.0,1171.1 L1875.0,1166.4 L1879.0,1161.6 L1883.0,1156.8 L1887.0,1152.0 L1891.0,1147.2 L1895.0,1142.4 L1899.0,1137.5 L1903.0,1132.7 L1907.0,1127.9 L1911.0,1123.0 L1915.0,1118.2 L1919.0,1113.4 L1923.0,1108.8 L1927.0,1104.1 L1931.0,1099.6 L1935.0,1095.3 L1939.0,1091.2 L1943.0,1087.1 L1947.0,1083.2 L1951.0,1079.4 L1955.0,1075.6 L1959.0,1071.8 L1963.0,1068.1 L1967.0,1064.3 L1971.0,1060.7 L1975.0,1057.0 L1979.0,1053.4 L1983.0,1049.8 L1987.0,1046.2 L1991.0,1042.7 L1995.0,1039.2 L1999.0,1035.7 L2003.0,1032.4 L2007.0,1029.1 L2011.0,1026.1 L2015.0,1023.4 L2019.0,1021.1 L2023.0,1019.2 L2027.0,1017.8 L2031.0,1016.7 L2035.0,1015.7 L2039.0,1014.9 L2043.0,1014.2 L2047.0,1013.4 L2051.0,1012.7 L2055.0,1011.8 L2059.0,1010.9 L2063.0,1009.9 L2067.0,1008.9 L2071.0,1008.0 L2075.0,1007.1 L2079.0,1006.4 L2083.0,1006.0 L2087.0,1006.0 L2091.0,1006.4 L2095.0,1007.4 L2099.0,1008.8 L2103.0,1010.6 L2107.0,1012.9 L2111.0,1015.3 L2115.0,1017.8 L2119.0,1020.6 L2123.0,1023.3 L2127.0,1026.1 L2131.0,1028.9 L2135.0,1031.8 L2139.0,1034.7 L2143.0,1037.6 L2147.0,1040.5 L2151.0,1043.5 L2155.0,1046.4 L2159.0,1049.4 L2163.0,1052.4 L2167.0,1055.4 L2171.0,1058.4 L2175.0,1061.5 L2179.0,1064.6 L2183.0,1067.7 L2187.0,1070.9 L2191.0,1074.2 L2195.0,1077.5 L2199.0,1080.9 L2203.0,1084.4 L2207.0,1087.9 L2211.0,1091.6 L2215.0,1095.5 L2219.0,1099.6 L2223.0,1103.8 L2227.0,1107.9 L2231.0,1112.0 L2235.0,1116.0 L2239.0,1119.8 L2243.0,1123.4 L2247.0,1126.7 L2251.0,1130.0 L2255.0,1133.1 L2259.0,1136.2 L2263.0,1139.3 L2267.0,1142.2 L2271.0,1145.0 L2275.0,1147.8 L2279.0,1150.5 L2283.0,1153.1 L2287.0,1155.8 L2291.0,1158.5 L2295.0,1161.4 L2299.0,1164.4 L2303.0,1167.8 L2307.0,1171.4 L2311.0,1175.3 L2315.0,1179.3 L2319.0,1183.4 L2323.0,1187.6 L2327.0,1191.7 L2331.0,1195.8 L2335.0,1199.9 L2339.0,1203.8 L2343.0,1207.6 L2347.0,1211.4 L2351.0,1215.1 L2355.0,1218.7 L2359.0,1222.2 L2363.0,1225.7 L2367.0,1229.2 L2371.0,1232.5 L2375.0,1235.7 L2379.0,1238.9 L2383.0,1241.9 L2387.0,1244.8 L2391.0,1247.6 L2395.0,1250.3 L2399.0,1252.9 L2403.0,1255.4 L2407.0,1257.8 L2411.0,1260.2 L2415.0,1262.5 L2419.0,1264.7 L2423.0,1266.8 L2427.0,1268.9 L2431.0,1270.8 L2435.0,1272.8 L2439.0,1274.6 L2443.0,1276.4 L2447.0,1278.2 L2451.0,1279.9 L2455.0,1281.5 L2459.0,1283.1 L2463.0,1284.7 L2467.0,1286.3 L2471.0,1287.8 L2475.0,1289.3 L2479.0,1290.9 L2483.0,1292.4 L2487.0,1293.9 L2491.0,1295.4 L2495.0,1296.8 L2499.0,1298.3 L2503.0,1299.8 L2507.0,1301.2 L2511.0,1302.7 L2515.0,1304.1 L2519.0,1305.5 L2523.0,1307.0 L2527.0,1308.4 L2531.0,1309.9 L2535.0,1311.4 L2539.0,1313.0 L2543.0,1314.6 L2547.0,1316.1 L2551.0,1317.7 L2555.0,1319.2 L2559.0,1320.7 L2563.0,1322.0 L2567.0,1323.3 L2571.0,1324.5 L2575.0,1325.5 L2579.0,1326.4 L2583.0,1327.1 L2587.0,1327.6 L2591.0,1328.0 L2595.0,1328.3 L2599.0,1328.5 L2603.0,1328.6 L2607.0,1328.7 L2611.0,1328.8 L2615.0,1328.8 L2619.0,1328.9 L2623.0,1328.9 L2627.0,1328.9 L2631.0,1328.9 L2635.0,1328.8 L2639.0,1328.8 L2643.0,1328.8 L2647.0,1328.8 L2651.0,1328.8 L2655.0,1328.8 L2659.0,1328.8 L2663.0,1328.8 L2667.0,1328.8 L2671.0,1328.8 L2675.0,1328.8 L2679.0,1328.8 L2683.0,1328.8 L2687.0,1328.8 L2691.0,1328.8 L2695.0,1328.8 L2699.0,1328.8 L2703.0,1328.8 L2707.0,1328.8 L2711.0,1328.8 L2715.0,1328.8 L2719.0,1328.8 L2723.0,1328.9 L2727.0,1328.9 L2731.0,1328.9 L2735.0,1328.9 L2739.0,1328.9 L2743.0,1328.9 L2747.0,1328.9 L2751.0,1328.9 L2755.0,1328.9 L2759.0,1328.9 L2763.0,1328.9 L2767.0,1328.9 L2771.0,1328.9 L2775.0,1328.9 L2779.0,1328.9 L2783.0,1328.9 L2787.0,1328.9 L2791.0,1328.9 L2795.0,1328.9 L2799.0,1328.9 L2803.0,1329.0 L2807.0,1329.0 L2811.0,1329.0 L2815.0,1329.0 L2819.0,1329.0 L2823.0,1329.0 L2827.0,1329.0 L2831.0,1329.0 L2835.0,1329.0 L2839.0,1329.0 L2843.0,1329.0 L2847.0,1329.0 L2851.0,1329.0 L2855.0,1329.0 L2859.0,1329.0 L2863.0,1329.0 L2867.0,1329.0 L2871.0,1329.0 L2875.0,1329.1 L2879.0,1329.1 L2883.0,1329.1 L2887.0,1329.1 L2891.0,1329.1 L2895.0,1329.1 L2899.0,1329.1 L2903.0,1329.1 L2907.0,1329.1 L2911.0,1329.1 L2915.0,1329.1 L2919.0,1329.1 L2923.0,1329.1 L2927.0,1329.1 L2931.0,1329.1 L2935.0,1329.1 L2939.0,1329.1 L2943.0,1329.1 L2947.0,1329.1 L2951.0,1329.1 L2955.0,1329.1 L2959.0,1329.1 L2963.0,1329.1 L2967.0,1329.1 L2971.0,1329.1 L2975.0,1329.1 L2979.0,1329.1 L2983.0,1329.1 L2987.0,1329.1 L2991.0,1329.1 L2995.0,1329.1 L2999.0,1329.1 L3003.0,1329.1 L3007.0,1329.1 L3011.0,1329.1 L3015.0,1329.1 L3019.0,1329.1 L3023.0,1329.1 L3027.0,1329.1 L3031.0,1329.1 L3035.0,1329.1 L3039.0,1329.1 L3043.0,1329.1 L3047.0,1329.1 L3051.0,1329.1 L3055.0,1329.1 L3059.0,1329.1 L3063.0,1329.1 L3067.0,1329.1 L3071.0,1329.1 L3075.0,1329.1 L3079.0,1329.1 L3083.0,1329.1 L3087.0,1329.0 L3091.0,1329.0 L3095.0,1329.0 L3099.0,1329.0 L3103.0,1329.0 L3107.0,1329.0 L3111.0,1329.0 L3115.0,1329.0 L3119.0,1329.0 L3123.0,1329.0 L3127.0,1328.9 L3131.0,1328.9 L3135.0,1328.9 L3139.0,1328.9 L3143.0,1328.9 L3147.0,1328.9 L3151.0,1328.9 L3155.0,1328.8 L3159.0,1328.8 L3163.0,1328.8 L3167.0,1328.8 L3167.0,1328.8Z" fill="#bb946c"/>
<path d="M575.0,1328.8 L579.0,1328.8 L583.0,1328.8 L587.0,1328.8 L591.0,1328.8 L595.0,1328.9 L599.0,1328.9 L603.0,1328.9 L607.0,1328.9 L611.0,1328.9 L615.0,1328.9 L619.0,1328.9 L623.0,1328.9 L627.0,1328.9 L631.0,1328.9 L635.0,1328.9 L639.0,1329.0 L643.0,1329.0 L647.0,1329.0 L651.0,1329.0 L655.0,1329.0 L659.0,1329.0 L663.0,1329.0 L667.0,1329.0 L671.0,1329.0 L675.0,1329.0 L679.0,1329.0 L683.0,1329.0 L687.0,1329.0 L691.0,1329.1 L695.0,1329.1 L699.0,1329.1 L703.0,1329.1 L707.0,1329.1 L711.0,1329.1 L715.0,1329.1 L719.0,1329.1 L723.0,1329.1 L727.0,1329.1 L731.0,1329.1 L735.0,1329.1 L739.0,1329.1 L743.0,1329.1 L747.0,1329.1 L751.0,1329.1 L755.0,1329.1 L759.0,1329.2 L763.0,1329.2 L767.0,1329.2 L771.0,1329.2 L775.0,1329.2 L779.0,1329.2 L783.0,1329.2 L787.0,1329.2 L791.0,1329.2 L795.0,1329.2 L799.0,1329.2 L803.0,1329.2 L807.0,1329.2 L811.0,1329.2 L815.0,1329.2 L819.0,1329.2 L823.0,1329.2 L827.0,1329.2 L831.0,1329.2 L835.0,1329.2 L839.0,1329.2 L843.0,1329.2 L847.0,1329.2 L851.0,1329.2 L855.0,1329.2 L859.0,1329.2 L863.0,1329.2 L867.0,1329.2 L871.0,1329.2 L875.0,1329.2 L879.0,1329.2 L883.0,1329.2 L887.0,1329.2 L891.0,1329.2 L895.0,1329.2 L899.0,1329.2 L903.0,1329.2 L907.0,1329.3 L911.0,1329.3 L915.0,1329.3 L919.0,1329.3 L923.0,1329.3 L927.0,1329.3 L931.0,1329.3 L935.0,1329.3 L939.0,1329.3 L943.0,1329.3 L947.0,1329.2 L951.0,1329.2 L955.0,1329.2 L959.0,1329.2 L963.0,1329.2 L967.0,1329.2 L971.0,1329.2 L975.0,1329.2 L979.0,1329.2 L983.0,1329.2 L987.0,1329.2 L991.0,1329.2 L995.0,1329.2 L999.0,1329.2 L1003.0,1329.2 L1007.0,1329.2 L1011.0,1329.2 L1015.0,1329.2 L1019.0,1329.2 L1023.0,1329.2 L1027.0,1329.2 L1031.0,1329.2 L1035.0,1329.2 L1039.0,1329.2 L1043.0,1329.2 L1047.0,1329.2 L1051.0,1329.2 L1055.0,1329.2 L1059.0,1329.2 L1063.0,1329.2 L1067.0,1329.2 L1071.0,1329.2 L1075.0,1329.2 L1079.0,1329.2 L1083.0,1329.2 L1087.0,1329.2 L1091.0,1329.2 L1095.0,1329.2 L1099.0,1329.1 L1103.0,1329.1 L1107.0,1329.1 L1111.0,1329.1 L1115.0,1329.1 L1119.0,1329.1 L1123.0,1329.1 L1127.0,1329.1 L1131.0,1329.1 L1135.0,1329.1 L1139.0,1329.1 L1143.0,1329.1 L1147.0,1329.1 L1151.0,1329.1 L1155.0,1329.1 L1159.0,1329.1 L1163.0,1329.1 L1167.0,1329.1 L1171.0,1329.1 L1175.0,1329.0 L1179.0,1329.0 L1183.0,1329.0 L1187.0,1329.0 L1191.0,1329.0 L1195.0,1329.0 L1199.0,1329.0 L1203.0,1329.0 L1207.0,1329.0 L1211.0,1329.0 L1215.0,1329.0 L1219.0,1329.0 L1223.0,1329.0 L1227.0,1329.0 L1231.0,1328.9 L1235.0,1328.9 L1239.0,1328.9 L1243.0,1328.9 L1247.0,1328.9 L1251.0,1328.9 L1255.0,1328.9 L1259.0,1328.9 L1263.0,1328.9 L1267.0,1328.9 L1271.0,1328.9 L1275.0,1328.9 L1279.0,1328.8 L1283.0,1328.8 L1287.0,1328.8 L1291.0,1328.8 L1295.0,1328.8 L1299.0,1328.8 L1303.0,1328.8 L1307.0,1328.8 L1311.0,1328.8 L1315.0,1328.8 L1319.0,1328.7 L1323.0,1328.7 L1327.0,1328.7 L1331.0,1328.7 L1335.0,1328.7 L1339.0,1328.7 L1343.0,1328.6 L1347.0,1328.6 L1351.0,1328.6 L1355.0,1328.6 L1359.0,1328.6 L1363.0,1328.5 L1367.0,1328.5 L1371.0,1328.5 L1375.0,1328.5 L1379.0,1328.4 L1383.0,1328.4 L1387.0,1328.4 L1391.0,1328.4 L1395.0,1328.3 L1399.0,1328.3 L1403.0,1328.3 L1407.0,1328.3 L1411.0,1328.2 L1415.0,1328.2 L1419.0,1328.2 L1423.0,1328.2 L1427.0,1328.1 L1431.0,1328.1 L1435.0,1328.1 L1439.0,1328.1 L1443.0,1328.0 L1447.0,1328.0 L1451.0,1328.0 L1455.0,1328.0 L1459.0,1327.9 L1463.0,1327.9 L1467.0,1327.9 L1471.0,1327.9 L1475.0,1327.8 L1479.0,1327.8 L1483.0,1327.8 L1487.0,1327.7 L1491.0,1327.7 L1495.0,1327.7 L1499.0,1327.6 L1503.0,1327.6 L1507.0,1327.5 L1511.0,1327.5 L1515.0,1327.4 L1519.0,1327.4 L1523.0,1327.3 L1527.0,1327.3 L1531.0,1327.2 L1535.0,1327.2 L1539.0,1327.1 L1543.0,1327.0 L1547.0,1327.0 L1551.0,1326.9 L1555.0,1326.8 L1559.0,1326.7 L1563.0,1326.6 L1567.0,1326.5 L1571.0,1326.3 L1575.0,1326.1 L1579.0,1325.9 L1583.0,1325.6 L1587.0,1325.3 L1591.0,1325.0 L1595.0,1324.6 L1599.0,1324.1 L1603.0,1323.7 L1607.0,1323.2 L1611.0,1322.7 L1615.0,1322.2 L1619.0,1321.7 L1623.0,1321.2 L1627.0,1320.6 L1631.0,1320.0 L1635.0,1319.4 L1639.0,1318.7 L1643.0,1318.0 L1647.0,1317.2 L1651.0,1316.4 L1655.0,1315.5 L1659.0,1314.6 L1663.0,1313.6 L1667.0,1312.6 L1671.0,1311.5 L1675.0,1310.3 L1679.0,1309.1 L1683.0,1307.7 L1687.0,1306.3 L1691.0,1304.7 L1695.0,1303.1 L1699.0,1301.3 L1703.0,1299.4 L1707.0,1297.4 L1711.0,1295.3 L1715.0,1293.1 L1719.0,1290.7 L1723.0,1288.3 L1727.0,1285.8 L1731.0,1283.1 L1735.0,1280.4 L1739.0,1277.5 L1743.0,1274.6 L1747.0,1271.6 L1751.0,1268.5 L1755.0,1265.4 L1759.0,1262.2 L1763.0,1259.0 L1767.0,1255.8 L1771.0,1252.5 L1775.0,1249.3 L1779.0,1246.0 L1783.0,1242.7 L1787.0,1239.4 L1791.0,1236.0 L1795.0,1232.7 L1799.0,1229.3 L1803.0,1225.9 L1807.0,1222.5 L1811.0,1219.0 L1815.0,1215.5 L1819.0,1211.9 L1823.0,1208.2 L1827.0,1204.5 L1831.0,1200.6 L1835.0,1196.5 L1839.0,1192.2 L1843.0,1187.7 L1847.0,1183.0 L1851.0,1178.1 L1855.0,1173.0 L1859.0,1167.7 L1863.0,1162.3 L1867.0,1156.8 L1871.0,1151.3 L1875.0,1145.8 L1879.0,1140.2 L1883.0,1134.7 L1887.0,1129.1 L1891.0,1123.6 L1895.0,1118.0 L1899.0,1112.5 L1903.0,1107.0 L1907.0,1101.6 L1911.0,1096.4 L1915.0,1091.3 L1919.0,1086.4 L1923.0,1081.9 L1927.0,1077.8 L1931.0,1074.0 L1935.0,1070.6 L1939.0,1067.6 L1943.0,1064.9 L1947.0,1062.4 L1951.0,1060.1 L1955.0,1058.0 L1959.0,1056.0 L1963.0,1054.1 L1967.0,1052.4 L1971.0,1050.8 L1975.0,1049.3 L1979.0,1047.9 L1983.0,1046.6 L1987.0,1045.4 L1991.0,1044.3 L1995.0,1043.2 L1999.0,1042.2 L2003.0,1041.2 L2007.0,1040.2 L2011.0,1039.3 L2015.0,1038.4 L2019.0,1037.5 L2023.0,1036.6 L2027.0,1035.8 L2031.0,1035.0 L2035.0,1034.2 L2039.0,1033.4 L2043.0,1032.7 L2047.0,1032.0 L2051.0,1031.3 L2055.0,1030.8 L2059.0,1030.3 L2063.0,1029.9 L2067.0,1029.6 L2071.0,1029.4 L2075.0,1029.4 L2079.0,1029.5 L2083.0,1029.7 L2087.0,1030.1 L2091.0,1030.7 L2095.0,1031.5 L2099.0,1032.5 L2103.0,1033.7 L2107.0,1035.0 L2111.0,1036.6 L2115.0,1038.3 L2119.0,1040.1 L2123.0,1042.1 L2127.0,1044.3 L2131.0,1046.6 L2135.0,1049.0 L2139.0,1051.6 L2143.0,1054.3 L2147.0,1057.0 L2151.0,1059.9 L2155.0,1062.8 L2159.0,1065.7 L2163.0,1068.7 L2167.0,1071.8 L2171.0,1074.8 L2175.0,1077.9 L2179.0,1081.0 L2183.0,1084.2 L2187.0,1087.4 L2191.0,1090.6 L2195.0,1093.8 L2199.0,1097.0 L2203.0,1100.1 L2207.0,1103.3 L2211.0,1106.4 L2215.0,1109.4 L2219.0,1112.4 L2223.0,1115.3 L2227.0,1118.2 L2231.0,1121.0 L2235.0,1123.8 L2239.0,1126.5 L2243.0,1129.2 L2247.0,1131.9 L2251.0,1134.5 L2255.0,1137.2 L2259.0,1139.8 L2263.0,1142.4 L2267.0,1145.0 L2271.0,1147.6 L2275.0,1150.2 L2279.0,1152.9 L2283.0,1155.8 L2287.0,1158.8 L2291.0,1161.9 L2295.0,1165.1 L2299.0,1168.5 L2303.0,1172.0 L2307.0,1175.6 L2311.0,1179.3 L2315.0,1183.0 L2319.0,1186.8 L2323.0,1190.6 L2327.0,1194.4 L2331.0,1198.2 L2335.0,1202.0 L2339.0,1205.8 L2343.0,1209.5 L2347.0,1213.3 L2351.0,1217.0 L2355.0,1220.6 L2359.0,1224.3 L2363.0,1227.8 L2367.0,1231.3 L2371.0,1234.7 L2375.0,1237.9 L2379.0,1241.1 L2383.0,1244.1 L2387.0,1246.9 L2391.0,1249.6 L2395.0,1252.1 L2399.0,1254.5 L2403.0,1256.8 L2407.0,1258.9 L2411.0,1261.0 L2415.0,1263.0 L2419.0,1264.9 L2423.0,1266.8 L2427.0,1268.7 L2431.0,1270.6 L2435.0,1272.4 L2439.0,1274.2 L2443.0,1276.0 L2447.0,1277.8 L2451.0,1279.5 L2455.0,1281.2 L2459.0,1282.9 L2463.0,1284.5 L2467.0,1286.1 L2471.0,1287.7 L2475.0,1289.3 L2479.0,1290.8 L2483.0,1292.3 L2487.0,1293.7 L2491.0,1295.1 L2495.0,1296.5 L2499.0,1297.8 L2503.0,1299.1 L2507.0,1300.3 L2511.0,1301.5 L2515.0,1302.7 L2519.0,1303.9 L2523.0,1305.1 L2527.0,1306.2 L2531.0,1307.4 L2535.0,1308.5 L2539.0,1309.6 L2543.0,1310.7 L2547.0,1311.8 L2551.0,1312.8 L2555.0,1313.8 L2559.0,1314.8 L2563.0,1315.8 L2567.0,1316.8 L2571.0,1317.7 L2575.0,1318.6 L2579.0,1319.4 L2583.0,1320.2 L2587.0,1320.9 L2591.0,1321.6 L2595.0,1322.3 L2599.0,1322.9 L2603.0,1323.4 L2607.0,1323.9 L2611.0,1324.4 L2615.0,1324.9 L2619.0,1325.3 L2623.0,1325.7 L2627.0,1326.0 L2631.0,1326.3 L2635.0,1326.6 L2639.0,1326.9 L2643.0,1327.2 L2647.0,1327.4 L2651.0,1327.7 L2655.0,1327.9 L2659.0,1328.0 L2663.0,1328.2 L2667.0,1328.3 L2671.0,1328.4 L2675.0,1328.5 L2679.0,1328.5 L2683.0,1328.6 L2687.0,1328.6 L2691.0,1328.6 L2695.0,1328.6 L2699.0,1328.7 L2703.0,1328.7 L2707.0,1328.7 L2711.0,1328.7 L2715.0,1328.7 L2719.0,1328.7 L2723.0,1328.8 L2727.0,1328.8 L2731.0,1328.8 L2735.0,1328.8 L2739.0,1328.8 L2743.0,1328.8 L2747.0,1328.8 L2751.0,1328.8 L2755.0,1328.8 L2759.0,1328.8 L2763.0,1328.8 L2767.0,1328.8 L2771.0,1328.8 L2775.0,1328.8 L2779.0,1328.8 L2783.0,1328.8 L2787.0,1328.8 L2791.0,1328.8 L2795.0,1328.8 L2799.0,1328.8 L2803.0,1328.8 L2807.0,1328.8 L2811.0,1328.8 L2815.0,1328.8 L2819.0,1328.8 L2823.0,1328.8 L2827.0,1328.8 L2831.0,1328.8 L2835.0,1328.8 L2839.0,1328.8 L2843.0,1328.8 L2847.0,1328.8 L2851.0,1328.9 L2855.0,1328.9 L2859.0,1328.9 L2863.0,1328.9 L2867.0,1328.9 L2871.0,1328.9 L2875.0,1328.9 L2879.0,1328.9 L2883.0,1328.9 L2887.0,1328.9 L2891.0,1328.9 L2895.0,1328.9 L2899.0,1328.9 L2903.0,1328.9 L2907.0,1328.9 L2911.0,1328.9 L2915.0,1328.9 L2919.0,1328.9 L2923.0,1328.9 L2927.0,1328.9 L2931.0,1328.9 L2935.0,1328.9 L2939.0,1328.9 L2943.0,1328.9 L2947.0,1328.9 L2951.0,1328.9 L2955.0,1328.9 L2959.0,1328.9 L2963.0,1328.9 L2967.0,1328.9 L2971.0,1328.9 L2975.0,1328.9 L2979.0,1328.9 L2983.0,1328.9 L2987.0,1328.9 L2991.0,1328.9 L2995.0,1328.9 L2999.0,1328.9 L3003.0,1328.9 L3007.0,1328.9 L3011.0,1328.9 L3015.0,1328.9 L3019.0,1328.9 L3023.0,1328.9 L3027.0,1328.9 L3031.0,1328.9 L3035.0,1328.9 L3039.0,1328.9 L3043.0,1328.9 L3047.0,1328.9 L3051.0,1328.9 L3055.0,1328.9 L3059.0,1328.9 L3063.0,1328.9 L3067.0,1328.9 L3071.0,1328.9 L3075.0,1328.9 L3079.0,1328.9 L3083.0,1328.9 L3087.0,1328.9 L3091.0,1328.9 L3095.0,1328.9 L3099.0,1328.9 L3103.0,1328.9 L3107.0,1328.9 L3111.0,1328.9 L3115.0,1328.9 L3119.0,1328.9 L3123.0,1328.9 L3127.0,1328.9 L3131.0,1328.9 L3135.0,1328.9 L3139.0,1328.8 L3143.0,1328.8 L3147.0,1328.8 L3151.0,1328.8 L3155.0,1328.8 L3159.0,1328.8 L3163.0,1328.8 L3167.0,1328.8" fill="none" stroke="#96591e" stroke-width="16.6" stroke-linejoin="round"/>
<path d="M445.1,989.5 V1345.1" stroke="#1a1a1a" stroke-width="7.4" fill="none"/>
<path d="M445.3,1345.3 H3296.5" stroke="#1a1a1a" stroke-width="7.4" fill="none"/>
<path d="M575.0,1349.0 v15.3" stroke="#333333" stroke-width="7.3" fill="none"/>
<text x="575.0" y="1423.6" font-size="63" fill="#4d4d4d" text-anchor="middle">0</text>
<path d="M1383.3,1349.0 v15.3" stroke="#333333" stroke-width="7.3" fill="none"/>
<text x="1383.3" y="1423.6" font-size="63" fill="#4d4d4d" text-anchor="middle">10</text>
<path d="M2191.5,1349.0 v15.3" stroke="#333333" stroke-width="7.3" fill="none"/>
<text x="2191.5" y="1423.6" font-size="63" fill="#4d4d4d" text-anchor="middle">20</text>
<path d="M2999.8,1349.0 v15.3" stroke="#333333" stroke-width="7.3" fill="none"/>
<text x="2999.8" y="1423.6" font-size="63" fill="#4d4d4d" text-anchor="middle">30</text>
<circle cx="3079.7" cy="1081.9" r="180.2" fill="#9e9e9e"/>
<path d="M3079.7,1081.9 L3079.7,901.7 A180.2,180.2 0 0 1 3081.1,901.7Z" fill="#b98a5c"/>
<g font-size="54" font-style="italic" fill="#000" text-anchor="middle">
<text x="3082.7" y="1024.3" letter-spacing="1">&lt;site rate:</text>
<text x="3084.7" y="1100.7">196/159033</text>
<text x="3083.5" y="1179.8">(0.1%)</text>
</g>
<path d="M575.0,2140.1 L575.0,2109.4 L579.0,2109.6 L583.0,2111.0 L587.0,2113.2 L591.0,2116.2 L595.0,2120.0 L599.0,2124.3 L603.0,2127.4 L607.0,2130.0 L611.0,2132.7 L615.0,2135.9 L619.0,2138.6 L623.0,2140.0 L627.0,2140.6 L631.0,2140.6 L635.0,2140.3 L639.0,2140.1 L643.0,2140.1 L647.0,2140.1 L651.0,2140.1 L655.0,2140.1 L659.0,2140.2 L663.0,2140.2 L667.0,2140.2 L671.0,2140.2 L675.0,2140.2 L679.0,2140.2 L683.0,2140.3 L687.0,2140.3 L691.0,2140.3 L695.0,2140.3 L699.0,2140.3 L703.0,2140.3 L707.0,2140.4 L711.0,2140.4 L715.0,2140.4 L719.0,2140.4 L723.0,2140.4 L727.0,2140.4 L731.0,2140.5 L735.0,2140.5 L739.0,2140.5 L743.0,2140.5 L747.0,2140.5 L751.0,2140.5 L755.0,2140.5 L759.0,2140.5 L763.0,2140.5 L767.0,2140.5 L771.0,2140.5 L775.0,2140.5 L779.0,2140.5 L783.0,2140.5 L787.0,2140.5 L791.0,2140.5 L795.0,2140.5 L799.0,2140.5 L803.0,2140.5 L807.0,2140.5 L811.0,2140.4 L815.0,2140.4 L819.0,2140.4 L823.0,2140.4 L827.0,2140.3 L831.0,2140.3 L835.0,2140.3 L839.0,2140.2 L843.0,2140.2 L847.0,2140.1 L851.0,2140.1 L855.0,2140.0 L859.0,2140.0 L863.0,2139.9 L867.0,2139.8 L871.0,2139.8 L875.0,2139.7 L879.0,2139.6 L883.0,2139.4 L887.0,2139.3 L891.0,2139.1 L895.0,2139.0 L899.0,2138.8 L903.0,2138.5 L907.0,2138.3 L911.0,2138.0 L915.0,2137.7 L919.0,2137.4 L923.0,2137.0 L927.0,2136.6 L931.0,2136.1 L935.0,2135.6 L939.0,2135.0 L943.0,2134.4 L947.0,2133.8 L951.0,2133.2 L955.0,2132.5 L959.0,2131.8 L963.0,2131.1 L967.0,2130.4 L971.0,2129.7 L975.0,2129.0 L979.0,2128.3 L983.0,2127.6 L987.0,2126.8 L991.0,2126.1 L995.0,2125.4 L999.0,2124.6 L1003.0,2123.8 L1007.0,2123.0 L1011.0,2122.2 L1015.0,2121.3 L1019.0,2120.5 L1023.0,2119.5 L1027.0,2118.6 L1031.0,2117.7 L1035.0,2116.7 L1039.0,2115.8 L1043.0,2114.8 L1047.0,2113.9 L1051.0,2112.9 L1055.0,2111.9 L1059.0,2110.9 L1063.0,2109.9 L1067.0,2109.0 L1071.0,2108.0 L1075.0,2107.0 L1079.0,2106.0 L1083.0,2105.0 L1087.0,2104.0 L1091.0,2102.9 L1095.0,2101.8 L1099.0,2100.8 L1103.0,2099.7 L1107.0,2098.4 L1111.0,2097.0 L1115.0,2095.3 L1119.0,2093.5 L1123.0,2091.4 L1127.0,2089.0 L1131.0,2086.3 L1135.0,2083.3 L1139.0,2080.0 L1143.0,2076.7 L1147.0,2073.2 L1151.0,2069.7 L1155.0,2066.1 L1159.0,2062.5 L1163.0,2058.8 L1167.0,2055.1 L1171.0,2051.3 L1175.0,2047.5 L1179.0,2043.7 L1183.0,2039.9 L1187.0,2036.1 L1191.0,2032.3 L1195.0,2028.4 L1199.0,2024.6 L1203.0,2020.8 L1207.0,2017.1 L1211.0,2013.4 L1215.0,2009.6 L1219.0,2005.9 L1223.0,2002.2 L1227.0,1998.5 L1231.0,1994.8 L1235.0,1991.2 L1239.0,1987.5 L1243.0,1983.8 L1247.0,1980.2 L1251.0,1976.5 L1255.0,1972.9 L1259.0,1969.3 L1263.0,1965.7 L1267.0,1962.2 L1271.0,1958.6 L1275.0,1955.2 L1279.0,1951.7 L1283.0,1948.3 L1287.0,1944.9 L1291.0,1941.6 L1295.0,1938.3 L1299.0,1935.0 L1303.0,1931.8 L1307.0,1928.5 L1311.0,1925.2 L1315.0,1922.0 L1319.0,1918.7 L1323.0,1915.4 L1327.0,1912.1 L1331.0,1908.9 L1335.0,1905.6 L1339.0,1902.4 L1343.0,1899.2 L1347.0,1896.1 L1351.0,1893.0 L1355.0,1890.0 L1359.0,1887.2 L1363.0,1884.6 L1367.0,1882.1 L1371.0,1879.9 L1375.0,1877.7 L1379.0,1875.6 L1383.0,1873.6 L1387.0,1871.6 L1391.0,1869.5 L1395.0,1867.4 L1399.0,1865.3 L1403.0,1863.3 L1407.0,1861.3 L1411.0,1859.4 L1415.0,1857.4 L1419.0,1855.6 L1423.0,1853.7 L1427.0,1852.0 L1431.0,1850.3 L1435.0,1848.6 L1439.0,1847.1 L1443.0,1845.7 L1447.0,1844.3 L1451.0,1843.0 L1455.0,1841.8 L1459.0,1840.6 L1463.0,1839.5 L1467.0,1838.5 L1471.0,1837.6 L1475.0,1836.8 L1479.0,1836.0 L1483.0,1835.3 L1487.0,1834.7 L1491.0,1834.1 L1495.0,1833.6 L1499.0,1833.2 L1503.0,1832.8 L1507.0,1832.5 L1511.0,1832.4 L1515.0,1832.4 L1519.0,1832.6 L1523.0,1832.9 L1527.0,1833.2 L1531.0,1833.7 L1535.0,1834.4 L1539.0,1835.2 L1543.0,1836.3 L1547.0,1837.7 L1551.0,1839.1 L1555.0,1840.6 L1559.0,1842.1 L1563.0,1843.6 L1567.0,1845.1 L1571.0,1846.6 L1575.0,1848.1 L1579.0,1849.6 L1583.0,1851.0 L1587.0,1852.4 L1591.0,1853.8 L1595.0,1855.2 L1599.0,1856.6 L1603.0,1858.0 L1607.0,1859.4 L1611.0,1860.7 L1615.0,1862.1 L1619.0,1863.5 L1623.0,1864.9 L1627.0,1866.4 L1631.0,1868.0 L1635.0,1869.7 L1639.0,1871.6 L1643.0,1873.8 L1647.0,1876.3 L1651.0,1879.1 L1655.0,1882.2 L1659.0,1885.4 L1663.0,1888.8 L1667.0,1892.1 L1671.0,1895.2 L1675.0,1898.2 L1679.0,1900.9 L1683.0,1903.3 L1687.0,1905.7 L1691.0,1908.1 L1695.0,1910.4 L1699.0,1912.8 L1703.0,1915.2 L1707.0,1917.6 L1711.0,1920.0 L1715.0,1922.4 L1719.0,1924.8 L1723.0,1927.2 L1727.0,1929.7 L1731.0,1932.1 L1735.0,1934.5 L1739.0,1936.9 L1743.0,1939.4 L1747.0,1941.8 L1751.0,1944.2 L1755.0,1946.6 L1759.0,1949.0 L1763.0,1951.5 L1767.0,1953.9 L1771.0,1956.3 L1775.0,1958.7 L1779.0,1961.1 L1783.0,1963.5 L1787.0,1965.9 L1791.0,1968.4 L1795.0,1970.8 L1799.0,1973.2 L1803.0,1975.6 L1807.0,1978.1 L1811.0,1980.7 L1815.0,1983.3 L1819.0,1985.9 L1823.0,1988.6 L1827.0,1991.2 L1831.0,1993.9 L1835.0,1996.6 L1839.0,1999.3 L1843.0,2002.0 L1847.0,2004.6 L1851.0,2007.2 L1855.0,2009.8 L1859.0,2012.3 L1863.0,2014.9 L1867.0,2017.3 L1871.0,2019.8 L1875.0,2022.2 L1879.0,2024.6 L1883.0,2026.9 L1887.0,2029.2 L1891.0,2031.5 L1895.0,2033.7 L1899.0,2035.9 L1903.0,2038.0 L1907.0,2040.0 L1911.0,2042.0 L1915.0,2043.9 L1919.0,2045.8 L1923.0,2047.6 L1927.0,2049.4 L1931.0,2051.1 L1935.0,2052.8 L1939.0,2054.5 L1943.0,2056.1 L1947.0,2057.6 L1951.0,2059.2 L1955.0,2060.6 L1959.0,2062.1 L1963.0,2063.5 L1967.0,2064.9 L1971.0,2066.3 L1975.0,2067.7 L1979.0,2069.0 L1983.0,2070.4 L1987.0,2071.8 L1991.0,2073.2 L1995.0,2074.5 L1999.0,2075.9 L2003.0,2077.3 L2007.0,2078.7 L2011.0,2080.1 L2015.0,2081.6 L2019.0,2083.0 L2023.0,2084.5 L2027.0,2086.0 L2031.0,2087.5 L2035.0,2089.0 L2039.0,2090.5 L2043.0,2092.0 L2047.0,2093.4 L2051.0,2094.9 L2055.0,2096.4 L2059.0,2097.8 L2063.0,2099.2 L2067.0,2100.6 L2071.0,2101.9 L2075.0,2103.2 L2079.0,2104.4 L2083.0,2105.5 L2087.0,2106.6 L2091.0,2107.7 L2095.0,2108.7 L2099.0,2109.7 L2103.0,2110.6 L2107.0,2111.5 L2111.0,2112.4 L2115.0,2113.2 L2119.0,2114.0 L2123.0,2114.8 L2127.0,2115.5 L2131.0,2116.2 L2135.0,2116.9 L2139.0,2117.6 L2143.0,2118.2 L2147.0,2118.8 L2151.0,2119.3 L2155.0,2119.8 L2159.0,2120.3 L2163.0,2120.7 L2167.0,2121.1 L2171.0,2121.5 L2175.0,2121.8 L2179.0,2122.1 L2183.0,2122.3 L2187.0,2122.6 L2191.0,2122.8 L2195.0,2123.1 L2199.0,2123.4 L2203.0,2123.6 L2207.0,2124.0 L2211.0,2124.3 L2215.0,2124.7 L2219.0,2125.2 L2223.0,2125.6 L2227.0,2126.1 L2231.0,2126.5 L2235.0,2127.0 L2239.0,2127.5 L2243.0,2127.9 L2247.0,2128.4 L2251.0,2128.9 L2255.0,2129.3 L2259.0,2129.8 L2263.0,2130.3 L2267.0,2130.7 L2271.0,2131.2 L2275.0,2131.7 L2279.0,2132.1 L2283.0,2132.6 L2287.0,2133.0 L2291.0,2133.5 L2295.0,2134.0 L2299.0,2134.4 L2303.0,2134.9 L2307.0,2135.4 L2311.0,2135.8 L2315.0,2136.3 L2319.0,2136.8 L2323.0,2137.2 L2327.0,2137.7 L2331.0,2138.0 L2335.0,2138.4 L2339.0,2138.7 L2343.0,2139.0 L2347.0,2139.3 L2351.0,2139.6 L2355.0,2139.8 L2359.0,2140.0 L2363.0,2140.3 L2367.0,2140.5 L2371.0,2140.7 L2375.0,2140.9 L2379.0,2141.1 L2383.0,2141.3 L2387.0,2141.5 L2391.0,2141.7 L2395.0,2141.9 L2399.0,2142.1 L2403.0,2142.3 L2407.0,2142.5 L2411.0,2142.7 L2415.0,2142.8 L2419.0,2143.0 L2423.0,2143.2 L2427.0,2143.4 L2431.0,2143.5 L2435.0,2143.7 L2439.0,2143.9 L2443.0,2144.0 L2447.0,2144.2 L2451.0,2144.4 L2455.0,2144.5 L2459.0,2144.7 L2463.0,2144.8 L2467.0,2145.0 L2471.0,2145.1 L2475.0,2145.3 L2479.0,2145.4 L2483.0,2145.5 L2487.0,2145.7 L2491.0,2145.8 L2495.0,2145.9 L2499.0,2146.1 L2503.0,2146.2 L2507.0,2146.3 L2511.0,2146.4 L2515.0,2146.6 L2519.0,2146.7 L2523.0,2146.8 L2527.0,2146.9 L2531.0,2147.0 L2535.0,2147.1 L2539.0,2147.2 L2543.0,2147.3 L2547.0,2147.4 L2551.0,2147.5 L2555.0,2147.6 L2559.0,2147.7 L2563.0,2147.8 L2567.0,2147.9 L2571.0,2148.0 L2575.0,2148.1 L2579.0,2148.1 L2583.0,2148.2 L2587.0,2148.3 L2591.0,2148.4 L2595.0,2148.4 L2599.0,2148.5 L2603.0,2148.6 L2607.0,2148.6 L2611.0,2148.7 L2615.0,2148.8 L2619.0,2148.8 L2623.0,2148.9 L2627.0,2148.9 L2631.0,2149.0 L2635.0,2149.0 L2639.0,2149.1 L2643.0,2149.1 L2647.0,2149.2 L2651.0,2149.2 L2655.0,2149.3 L2659.0,2149.3 L2663.0,2149.3 L2667.0,2149.4 L2671.0,2149.4 L2675.0,2149.4 L2679.0,2149.5 L2683.0,2149.5 L2687.0,2149.5 L2691.0,2149.5 L2695.0,2149.6 L2699.0,2149.6 L2703.0,2149.6 L2707.0,2149.6 L2711.0,2149.6 L2715.0,2149.6 L2719.0,2149.6 L2723.0,2149.6 L2727.0,2149.6 L2731.0,2149.6 L2735.0,2149.6 L2739.0,2149.6 L2743.0,2149.6 L2747.0,2149.6 L2751.0,2149.6 L2755.0,2149.6 L2759.0,2149.6 L2763.0,2149.6 L2767.0,2149.6 L2771.0,2149.6 L2775.0,2149.5 L2779.0,2149.5 L2783.0,2149.5 L2787.0,2149.5 L2791.0,2149.4 L2795.0,2149.4 L2799.0,2149.4 L2803.0,2149.4 L2807.0,2149.3 L2811.0,2149.3 L2815.0,2149.3 L2819.0,2149.2 L2823.0,2149.2 L2827.0,2149.1 L2831.0,2149.1 L2835.0,2149.0 L2839.0,2149.0 L2843.0,2148.9 L2847.0,2148.9 L2851.0,2148.8 L2855.0,2148.8 L2859.0,2148.7 L2863.0,2148.7 L2867.0,2148.6 L2871.0,2148.6 L2875.0,2148.5 L2879.0,2148.4 L2883.0,2148.4 L2887.0,2148.3 L2891.0,2148.2 L2895.0,2148.2 L2899.0,2148.1 L2903.0,2148.0 L2907.0,2147.9 L2911.0,2147.9 L2915.0,2147.8 L2919.0,2147.7 L2923.0,2147.6 L2927.0,2147.5 L2931.0,2147.4 L2935.0,2147.4 L2939.0,2147.3 L2943.0,2147.2 L2947.0,2147.1 L2951.0,2147.0 L2955.0,2146.9 L2959.0,2146.8 L2963.0,2146.7 L2967.0,2146.6 L2971.0,2146.5 L2975.0,2146.4 L2979.0,2146.3 L2983.0,2146.2 L2987.0,2146.1 L2991.0,2146.0 L2995.0,2145.9 L2999.0,2145.8 L3003.0,2145.7 L3007.0,2145.6 L3011.0,2145.5 L3015.0,2145.3 L3019.0,2145.2 L3023.0,2145.1 L3027.0,2145.0 L3031.0,2144.9 L3035.0,2144.8 L3039.0,2144.6 L3043.0,2144.5 L3047.0,2144.4 L3051.0,2144.3 L3055.0,2144.1 L3059.0,2144.0 L3063.0,2143.9 L3067.0,2143.7 L3071.0,2143.6 L3075.0,2143.5 L3079.0,2143.3 L3083.0,2143.2 L3087.0,2143.1 L3091.0,2142.9 L3095.0,2142.8 L3099.0,2142.7 L3103.0,2142.5 L3107.0,2142.4 L3111.0,2142.2 L3115.0,2142.1 L3119.0,2141.9 L3123.0,2141.8 L3127.0,2141.6 L3131.0,2141.5 L3135.0,2141.3 L3139.0,2141.2 L3143.0,2141.0 L3147.0,2140.9 L3151.0,2140.7 L3155.0,2140.6 L3159.0,2140.4 L3163.0,2140.3 L3167.0,2140.1 L3167.0,2140.1Z" fill="#f1aa66"/>
<path d="M575.0,2140.4 L579.0,2140.4 L583.0,2140.4 L587.0,2140.3 L591.0,2140.3 L595.0,2140.3 L599.0,2140.3 L603.0,2140.3 L607.0,2140.3 L611.0,2140.2 L615.0,2140.2 L619.0,2140.2 L623.0,2140.2 L627.0,2140.2 L631.0,2140.1 L635.0,2140.1 L639.0,2140.1 L643.0,2140.1 L647.0,2140.1 L651.0,2140.0 L655.0,2140.0 L659.0,2140.0 L663.0,2140.0 L667.0,2140.0 L671.0,2139.9 L675.0,2139.9 L679.0,2139.9 L683.0,2139.9 L687.0,2139.9 L691.0,2139.8 L695.0,2139.8 L699.0,2139.8 L703.0,2139.8 L707.0,2139.8 L711.0,2139.7 L715.0,2139.7 L719.0,2139.7 L723.0,2139.7 L727.0,2139.6 L731.0,2139.6 L735.0,2139.6 L739.0,2139.6 L743.0,2139.5 L747.0,2139.5 L751.0,2139.5 L755.0,2139.4 L759.0,2139.4 L763.0,2139.4 L767.0,2139.3 L771.0,2139.3 L775.0,2139.3 L779.0,2139.2 L783.0,2139.2 L787.0,2139.1 L791.0,2139.0 L795.0,2139.0 L799.0,2138.9 L803.0,2138.8 L807.0,2138.7 L811.0,2138.7 L815.0,2138.6 L819.0,2138.5 L823.0,2138.3 L827.0,2138.2 L831.0,2138.1 L835.0,2138.0 L839.0,2137.9 L843.0,2137.7 L847.0,2137.6 L851.0,2137.4 L855.0,2137.2 L859.0,2137.0 L863.0,2136.8 L867.0,2136.6 L871.0,2136.4 L875.0,2136.1 L879.0,2135.8 L883.0,2135.5 L887.0,2135.1 L891.0,2134.7 L895.0,2134.3 L899.0,2133.8 L903.0,2133.4 L907.0,2132.9 L911.0,2132.4 L915.0,2131.9 L919.0,2131.4 L923.0,2130.9 L927.0,2130.3 L931.0,2129.8 L935.0,2129.2 L939.0,2128.6 L943.0,2128.1 L947.0,2127.5 L951.0,2126.9 L955.0,2126.2 L959.0,2125.6 L963.0,2124.9 L967.0,2124.2 L971.0,2123.5 L975.0,2122.8 L979.0,2122.1 L983.0,2121.3 L987.0,2120.5 L991.0,2119.8 L995.0,2119.0 L999.0,2118.1 L1003.0,2117.3 L1007.0,2116.5 L1011.0,2115.6 L1015.0,2114.8 L1019.0,2113.9 L1023.0,2113.0 L1027.0,2112.1 L1031.0,2111.1 L1035.0,2110.2 L1039.0,2109.2 L1043.0,2108.3 L1047.0,2107.3 L1051.0,2106.3 L1055.0,2105.3 L1059.0,2104.2 L1063.0,2103.2 L1067.0,2102.1 L1071.0,2100.9 L1075.0,2099.8 L1079.0,2098.6 L1083.0,2097.3 L1087.0,2096.0 L1091.0,2094.5 L1095.0,2093.0 L1099.0,2091.5 L1103.0,2089.8 L1107.0,2088.0 L1111.0,2086.0 L1115.0,2084.0 L1119.0,2081.8 L1123.0,2079.5 L1127.0,2077.1 L1131.0,2074.6 L1135.0,2071.9 L1139.0,2069.1 L1143.0,2066.2 L1147.0,2063.1 L1151.0,2059.9 L1155.0,2056.6 L1159.0,2053.1 L1163.0,2049.4 L1167.0,2045.7 L1171.0,2041.8 L1175.0,2037.7 L1179.0,2033.6 L1183.0,2029.4 L1187.0,2025.1 L1191.0,2020.7 L1195.0,2016.3 L1199.0,2011.8 L1203.0,2007.3 L1207.0,2002.7 L1211.0,1998.1 L1215.0,1993.4 L1219.0,1988.6 L1223.0,1983.8 L1227.0,1979.1 L1231.0,1974.3 L1235.0,1969.6 L1239.0,1964.8 L1243.0,1960.2 L1247.0,1955.7 L1251.0,1951.2 L1255.0,1946.8 L1259.0,1942.6 L1263.0,1938.5 L1267.0,1934.5 L1271.0,1930.7 L1275.0,1927.0 L1279.0,1923.4 L1283.0,1920.0 L1287.0,1916.7 L1291.0,1913.6 L1295.0,1910.6 L1299.0,1907.7 L1303.0,1905.0 L1307.0,1902.4 L1311.0,1900.0 L1315.0,1897.6 L1319.0,1895.4 L1323.0,1893.2 L1327.0,1891.0 L1331.0,1889.0 L1335.0,1886.9 L1339.0,1884.9 L1343.0,1883.0 L1347.0,1881.0 L1351.0,1879.1 L1355.0,1877.3 L1359.0,1875.4 L1363.0,1873.6 L1367.0,1871.8 L1371.0,1870.0 L1375.0,1868.2 L1379.0,1866.4 L1383.0,1864.5 L1387.0,1862.7 L1391.0,1860.9 L1395.0,1859.1 L1399.0,1857.3 L1403.0,1855.5 L1407.0,1853.7 L1411.0,1851.9 L1415.0,1850.1 L1419.0,1848.3 L1423.0,1846.6 L1427.0,1844.9 L1431.0,1843.2 L1435.0,1841.7 L1439.0,1840.2 L1443.0,1838.7 L1447.0,1837.4 L1451.0,1836.1 L1455.0,1834.8 L1459.0,1833.6 L1463.0,1832.4 L1467.0,1831.3 L1471.0,1830.2 L1475.0,1829.1 L1479.0,1828.1 L1483.0,1827.1 L1487.0,1826.1 L1491.0,1825.2 L1495.0,1824.4 L1499.0,1823.5 L1503.0,1822.8 L1507.0,1822.1 L1511.0,1821.4 L1515.0,1820.8 L1519.0,1820.2 L1523.0,1819.6 L1527.0,1819.1 L1531.0,1818.7 L1535.0,1818.3 L1539.0,1817.9 L1543.0,1817.7 L1547.0,1817.5 L1551.0,1817.5 L1555.0,1817.6 L1559.0,1817.8 L1563.0,1818.2 L1567.0,1818.7 L1571.0,1819.5 L1575.0,1820.4 L1579.0,1821.5 L1583.0,1822.8 L1587.0,1824.3 L1591.0,1826.1 L1595.0,1828.0 L1599.0,1830.2 L1603.0,1832.6 L1607.0,1835.2 L1611.0,1838.0 L1615.0,1840.9 L1619.0,1844.0 L1623.0,1847.2 L1627.0,1850.6 L1631.0,1854.0 L1635.0,1857.6 L1639.0,1861.2 L1643.0,1864.9 L1647.0,1868.8 L1651.0,1872.7 L1655.0,1876.6 L1659.0,1880.6 L1663.0,1884.6 L1667.0,1888.6 L1671.0,1892.5 L1675.0,1896.5 L1679.0,1900.3 L1683.0,1904.1 L1687.0,1907.8 L1691.0,1911.4 L1695.0,1915.0 L1699.0,1918.4 L1703.0,1921.7 L1707.0,1924.8 L1711.0,1927.9 L1715.0,1930.8 L1719.0,1933.6 L1723.0,1936.3 L1727.0,1938.9 L1731.0,1941.6 L1735.0,1944.1 L1739.0,1946.7 L1743.0,1949.3 L1747.0,1951.8 L1751.0,1954.4 L1755.0,1956.9 L1759.0,1959.4 L1763.0,1962.0 L1767.0,1964.5 L1771.0,1967.1 L1775.0,1969.6 L1779.0,1972.2 L1783.0,1974.7 L1787.0,1977.2 L1791.0,1979.8 L1795.0,1982.3 L1799.0,1984.8 L1803.0,1987.3 L1807.0,1989.8 L1811.0,1992.3 L1815.0,1994.8 L1819.0,1997.2 L1823.0,1999.6 L1827.0,2002.1 L1831.0,2004.5 L1835.0,2006.8 L1839.0,2009.2 L1843.0,2011.6 L1847.0,2013.9 L1851.0,2016.2 L1855.0,2018.5 L1859.0,2020.8 L1863.0,2023.1 L1867.0,2025.3 L1871.0,2027.6 L1875.0,2029.7 L1879.0,2031.9 L1883.0,2033.9 L1887.0,2036.0 L1891.0,2038.0 L1895.0,2039.9 L1899.0,2041.8 L1903.0,2043.7 L1907.0,2045.5 L1911.0,2047.2 L1915.0,2048.9 L1919.0,2050.6 L1923.0,2052.2 L1927.0,2053.8 L1931.0,2055.3 L1935.0,2056.9 L1939.0,2058.3 L1943.0,2059.8 L1947.0,2061.2 L1951.0,2062.6 L1955.0,2064.0 L1959.0,2065.4 L1963.0,2066.7 L1967.0,2068.0 L1971.0,2069.3 L1975.0,2070.6 L1979.0,2071.9 L1983.0,2073.1 L1987.0,2074.4 L1991.0,2075.7 L1995.0,2077.0 L1999.0,2078.2 L2003.0,2079.6 L2007.0,2080.9 L2011.0,2082.3 L2015.0,2083.7 L2019.0,2085.2 L2023.0,2086.6 L2027.0,2088.1 L2031.0,2089.7 L2035.0,2091.2 L2039.0,2092.7 L2043.0,2094.3 L2047.0,2095.8 L2051.0,2097.3 L2055.0,2098.8 L2059.0,2100.3 L2063.0,2101.7 L2067.0,2103.1 L2071.0,2104.5 L2075.0,2105.9 L2079.0,2107.2 L2083.0,2108.4 L2087.0,2109.7 L2091.0,2110.9 L2095.0,2112.0 L2099.0,2113.1 L2103.0,2114.1 L2107.0,2115.1 L2111.0,2116.1 L2115.0,2117.0 L2119.0,2117.8 L2123.0,2118.5 L2127.0,2119.3 L2131.0,2119.9 L2135.0,2120.5 L2139.0,2121.1 L2143.0,2121.6 L2147.0,2122.1 L2151.0,2122.5 L2155.0,2122.9 L2159.0,2123.2 L2163.0,2123.6 L2167.0,2123.8 L2171.0,2124.1 L2175.0,2124.3 L2179.0,2124.5 L2183.0,2124.7 L2187.0,2124.9 L2191.0,2125.1 L2195.0,2125.3 L2199.0,2125.4 L2203.0,2125.7 L2207.0,2125.9 L2211.0,2126.1 L2215.0,2126.4 L2219.0,2126.7 L2223.0,2127.0 L2227.0,2127.4 L2231.0,2127.7 L2235.0,2128.0 L2239.0,2128.4 L2243.0,2128.8 L2247.0,2129.1 L2251.0,2129.5 L2255.0,2129.8 L2259.0,2130.2 L2263.0,2130.5 L2267.0,2130.9 L2271.0,2131.2 L2275.0,2131.6 L2279.0,2131.9 L2283.0,2132.2 L2287.0,2132.6 L2291.0,2132.9 L2295.0,2133.2 L2299.0,2133.5 L2303.0,2133.9 L2307.0,2134.2 L2311.0,2134.5 L2315.0,2134.8 L2319.0,2135.1 L2323.0,2135.4 L2327.0,2135.7 L2331.0,2135.9 L2335.0,2136.2 L2339.0,2136.4 L2343.0,2136.6 L2347.0,2136.8 L2351.0,2137.0 L2355.0,2137.2 L2359.0,2137.3 L2363.0,2137.5 L2367.0,2137.6 L2371.0,2137.7 L2375.0,2137.7 L2379.0,2137.8 L2383.0,2137.8 L2387.0,2137.8 L2391.0,2137.7 L2395.0,2137.7 L2399.0,2137.6 L2403.0,2137.5 L2407.0,2137.4 L2411.0,2137.3 L2415.0,2137.2 L2419.0,2137.1 L2423.0,2137.0 L2427.0,2137.0 L2431.0,2136.9 L2435.0,2136.9 L2439.0,2136.8 L2443.0,2136.8 L2447.0,2136.9 L2451.0,2136.9 L2455.0,2137.0 L2459.0,2137.0 L2463.0,2137.1 L2467.0,2137.2 L2471.0,2137.3 L2475.0,2137.4 L2479.0,2137.6 L2483.0,2137.7 L2487.0,2137.8 L2491.0,2137.9 L2495.0,2138.0 L2499.0,2138.1 L2503.0,2138.3 L2507.0,2138.4 L2511.0,2138.5 L2515.0,2138.6 L2519.0,2138.7 L2523.0,2138.8 L2527.0,2138.9 L2531.0,2138.9 L2535.0,2139.0 L2539.0,2139.1 L2543.0,2139.2 L2547.0,2139.3 L2551.0,2139.3 L2555.0,2139.4 L2559.0,2139.5 L2563.0,2139.5 L2567.0,2139.6 L2571.0,2139.7 L2575.0,2139.7 L2579.0,2139.8 L2583.0,2139.8 L2587.0,2139.9 L2591.0,2139.9 L2595.0,2139.9 L2599.0,2139.9 L2603.0,2140.0 L2607.0,2140.0 L2611.0,2140.0 L2615.0,2139.9 L2619.0,2139.9 L2623.0,2139.9 L2627.0,2139.8 L2631.0,2139.8 L2635.0,2139.7 L2639.0,2139.7 L2643.0,2139.6 L2647.0,2139.5 L2651.0,2139.5 L2655.0,2139.4 L2659.0,2139.3 L2663.0,2139.3 L2667.0,2139.2 L2671.0,2139.2 L2675.0,2139.1 L2679.0,2139.0 L2683.0,2139.0 L2687.0,2139.0 L2691.0,2139.0 L2695.0,2138.9 L2699.0,2138.9 L2703.0,2138.9 L2707.0,2138.9 L2711.0,2138.9 L2715.0,2139.0 L2719.0,2139.0 L2723.0,2139.0 L2727.0,2139.0 L2731.0,2139.0 L2735.0,2139.0 L2739.0,2139.0 L2743.0,2139.1 L2747.0,2139.1 L2751.0,2139.1 L2755.0,2139.1 L2759.0,2139.1 L2763.0,2139.2 L2767.0,2139.2 L2771.0,2139.2 L2775.0,2139.2 L2779.0,2139.2 L2783.0,2139.3 L2787.0,2139.3 L2791.0,2139.3 L2795.0,2139.3 L2799.0,2139.3 L2803.0,2139.3 L2807.0,2139.4 L2811.0,2139.4 L2815.0,2139.4 L2819.0,2139.4 L2823.0,2139.4 L2827.0,2139.4 L2831.0,2139.4 L2835.0,2139.5 L2839.0,2139.5 L2843.0,2139.5 L2847.0,2139.5 L2851.0,2139.5 L2855.0,2139.5 L2859.0,2139.5 L2863.0,2139.5 L2867.0,2139.5 L2871.0,2139.5 L2875.0,2139.5 L2879.0,2139.6 L2883.0,2139.6 L2887.0,2139.6 L2891.0,2139.6 L2895.0,2139.6 L2899.0,2139.6 L2903.0,2139.6 L2907.0,2139.6 L2911.0,2139.6 L2915.0,2139.6 L2919.0,2139.6 L2923.0,2139.6 L2927.0,2139.7 L2931.0,2139.7 L2935.0,2139.7 L2939.0,2139.7 L2943.0,2139.7 L2947.0,2139.7 L2951.0,2139.7 L2955.0,2139.7 L2959.0,2139.7 L2963.0,2139.7 L2967.0,2139.7 L2971.0,2139.7 L2975.0,2139.7 L2979.0,2139.8 L2983.0,2139.8 L2987.0,2139.8 L2991.0,2139.8 L2995.0,2139.8 L2999.0,2139.8 L3003.0,2139.8 L3007.0,2139.8 L3011.0,2139.8 L3015.0,2139.8 L3019.0,2139.8 L3023.0,2139.8 L3027.0,2139.8 L3031.0,2139.8 L3035.0,2139.9 L3039.0,2139.9 L3043.0,2139.9 L3047.0,2139.9 L3051.0,2139.9 L3055.0,2139.9 L3059.0,2139.9 L3063.0,2139.9 L3067.0,2139.9 L3071.0,2139.9 L3075.0,2139.9 L3079.0,2139.9 L3083.0,2139.9 L3087.0,2139.9 L3091.0,2139.9 L3095.0,2139.9 L3099.0,2139.9 L3103.0,2140.0 L3107.0,2140.0 L3111.0,2140.0 L3115.0,2140.0 L3119.0,2140.0 L3123.0,2140.0 L3127.0,2140.0 L3131.0,2140.0 L3135.0,2140.0 L3139.0,2140.0 L3143.0,2140.0 L3147.0,2140.0 L3151.0,2140.0 L3155.0,2140.0 L3159.0,2140.0 L3163.0,2140.0 L3167.0,2140.0" fill="none" stroke="#e87b12" stroke-width="16.6" stroke-linejoin="round"/>
<path d="M445.1,1800.8 V2156.4" stroke="#1a1a1a" stroke-width="7.4" fill="none"/>
<path d="M445.3,2156.6 H3296.5" stroke="#1a1a1a" stroke-width="7.4" fill="none"/>
<path d="M575.0,2160.3 v15.3" stroke="#333333" stroke-width="7.3" fill="none"/>
<text x="575.0" y="2234.9" font-size="63" fill="#4d4d4d" text-anchor="middle">0</text>
<path d="M1230.7,2160.3 v15.3" stroke="#333333" stroke-width="7.3" fill="none"/>
<text x="1230.7" y="2234.9" font-size="63" fill="#4d4d4d" text-anchor="middle">5</text>
<path d="M1886.3,2160.3 v15.3" stroke="#333333" stroke-width="7.3" fill="none"/>
<text x="1886.3" y="2234.9" font-size="63" fill="#4d4d4d" text-anchor="middle">10</text>
<path d="M2542.0,2160.3 v15.3" stroke="#333333" stroke-width="7.3" fill="none"/>
<text x="2542.0" y="2234.9" font-size="63" fill="#4d4d4d" text-anchor="middle">15</text>
<path d="M3197.8,2160.3 v15.3" stroke="#333333" stroke-width="7.3" fill="none"/>
<text x="3197.8" y="2234.9" font-size="63" fill="#4d4d4d" text-anchor="middle">20</text>
<circle cx="3079.7" cy="1893.2" r="180.2" fill="#9e9e9e"/>
<path d="M3079.7,1893.2 L3079.7,1713.0 A180.2,180.2 0 1 1 2952.3,2020.6Z" fill="#f1a153"/>
<g font-size="54" font-style="italic" fill="#000" text-anchor="middle">
<text x="3082.7" y="1835.6" letter-spacing="1">&lt;site rate:</text>
<text x="3082.7" y="1912.0">80035/127973</text>
<text x="3083.5" y="1991.1">(62.5%)</text>
</g>
<path d="M163.7,3086.0 L163.7,2960.2 L167.7,2954.7 L171.7,2949.1 L175.7,2943.4 L179.7,2937.6 L183.7,2931.7 L187.7,2925.7 L191.7,2919.6 L195.7,2913.4 L199.7,2907.1 L203.7,2900.7 L207.7,2894.2 L211.7,2887.7 L215.7,2881.0 L219.7,2874.3 L223.7,2867.6 L227.7,2860.8 L231.7,2854.0 L235.7,2847.1 L239.7,2840.2 L243.7,2833.2 L247.7,2826.2 L251.7,2819.1 L255.7,2812.0 L259.7,2804.9 L263.7,2797.7 L267.7,2790.5 L271.7,2783.2 L275.7,2776.0 L279.7,2768.7 L283.7,2761.4 L287.7,2754.1 L291.7,2746.8 L295.7,2739.6 L299.7,2732.4 L303.7,2725.2 L307.7,2718.1 L311.7,2711.0 L315.7,2704.0 L319.7,2697.1 L323.7,2690.2 L327.7,2683.4 L331.7,2676.7 L335.7,2670.1 L339.7,2663.6 L343.7,2657.1 L347.7,2650.7 L351.7,2644.4 L355.7,2638.2 L359.7,2632.1 L363.7,2626.1 L367.7,2620.2 L371.7,2614.5 L375.7,2608.8 L379.7,2603.3 L383.7,2598.0 L387.7,2592.8 L391.7,2587.8 L395.7,2582.9 L399.7,2578.2 L403.7,2573.6 L407.7,2569.2 L411.7,2564.9 L415.7,2560.7 L419.7,2556.7 L423.7,2552.8 L427.7,2549.0 L431.7,2545.3 L435.7,2541.8 L439.7,2538.4 L443.7,2535.1 L447.7,2532.0 L451.7,2529.0 L455.7,2526.2 L459.7,2523.6 L463.7,2521.1 L467.7,2518.8 L471.7,2516.7 L475.7,2514.7 L479.7,2512.9 L483.7,2511.2 L487.7,2509.7 L491.7,2508.2 L495.7,2506.9 L499.7,2505.6 L503.7,2504.4 L507.7,2503.2 L511.7,2502.1 L515.7,2501.1 L519.7,2500.1 L523.7,2499.1 L527.7,2498.3 L531.7,2497.4 L535.7,2496.6 L539.7,2495.8 L543.7,2495.1 L547.7,2494.4 L551.7,2493.7 L555.7,2493.1 L559.7,2492.4 L563.7,2491.8 L567.7,2491.2 L571.7,2490.5 L575.7,2489.9 L579.7,2489.2 L583.7,2488.5 L587.7,2487.7 L591.7,2486.9 L595.7,2486.1 L599.7,2485.2 L603.7,2484.4 L607.7,2483.4 L611.7,2482.5 L615.7,2481.4 L619.7,2480.4 L623.7,2479.4 L627.7,2478.3 L631.7,2477.1 L635.7,2476.0 L639.7,2474.8 L643.7,2473.6 L647.7,2472.4 L651.7,2471.1 L655.7,2469.8 L659.7,2468.4 L663.7,2467.0 L667.7,2465.6 L671.7,2464.2 L675.7,2462.7 L679.7,2461.2 L683.7,2459.7 L687.7,2458.2 L691.7,2456.8 L695.7,2455.3 L699.7,2453.9 L703.7,2452.5 L707.7,2451.2 L711.7,2449.9 L715.7,2448.7 L719.7,2447.6 L723.7,2446.5 L727.7,2445.6 L731.7,2444.7 L735.7,2443.9 L739.7,2443.2 L743.7,2442.5 L747.7,2442.0 L751.7,2441.6 L755.7,2441.3 L759.7,2441.2 L763.7,2441.2 L767.7,2441.3 L771.7,2441.7 L775.7,2442.1 L779.7,2442.8 L783.7,2443.6 L787.7,2444.6 L791.7,2445.8 L795.7,2447.1 L799.7,2448.7 L803.7,2450.4 L807.7,2452.2 L811.7,2454.3 L815.7,2456.5 L819.7,2458.9 L823.7,2461.4 L827.7,2464.1 L831.7,2466.9 L835.7,2469.9 L839.7,2473.1 L843.7,2476.3 L847.7,2479.7 L851.7,2483.2 L855.7,2486.9 L859.7,2490.7 L863.7,2494.6 L867.7,2498.6 L871.7,2502.8 L875.7,2507.2 L879.7,2511.6 L883.7,2516.2 L887.7,2520.8 L891.7,2525.6 L895.7,2530.5 L899.7,2535.4 L903.7,2540.4 L907.7,2545.4 L911.7,2550.4 L915.7,2555.4 L919.7,2560.4 L923.7,2565.4 L927.7,2570.3 L931.7,2575.2 L935.7,2580.1 L939.7,2584.9 L943.7,2589.6 L947.7,2594.3 L951.7,2599.0 L955.7,2603.5 L959.7,2608.1 L963.7,2612.6 L967.7,2617.0 L971.7,2621.3 L975.7,2625.6 L979.7,2629.7 L983.7,2633.8 L987.7,2637.8 L991.7,2641.6 L995.7,2645.4 L999.7,2649.0 L1003.7,2652.5 L1007.7,2655.8 L1011.7,2659.0 L1015.7,2662.1 L1019.7,2665.1 L1023.7,2667.9 L1027.7,2670.6 L1031.7,2673.2 L1035.7,2675.6 L1039.7,2678.0 L1043.7,2680.3 L1047.7,2682.4 L1051.7,2684.6 L1055.7,2686.6 L1059.7,2688.6 L1063.7,2690.5 L1067.7,2692.4 L1071.7,2694.3 L1075.7,2696.1 L1079.7,2697.9 L1083.7,2699.7 L1087.7,2701.5 L1091.7,2703.2 L1095.7,2705.0 L1099.7,2706.7 L1103.7,2708.4 L1107.7,2710.0 L1111.7,2711.7 L1115.7,2713.3 L1119.7,2714.9 L1123.7,2716.5 L1127.7,2718.1 L1131.7,2719.7 L1135.7,2721.3 L1139.7,2722.9 L1143.7,2724.5 L1147.7,2726.1 L1151.7,2727.7 L1155.7,2729.4 L1159.7,2731.1 L1163.7,2732.7 L1167.7,2734.4 L1171.7,2736.2 L1175.7,2737.9 L1179.7,2739.7 L1183.7,2741.5 L1187.7,2743.3 L1191.7,2745.2 L1195.7,2747.1 L1199.7,2748.9 L1203.7,2750.9 L1207.7,2752.8 L1211.7,2754.7 L1215.7,2756.7 L1219.7,2758.7 L1223.7,2760.7 L1227.7,2762.7 L1231.7,2764.8 L1235.7,2766.8 L1239.7,2768.9 L1243.7,2771.0 L1247.7,2773.2 L1251.7,2775.3 L1255.7,2777.5 L1259.7,2779.8 L1263.7,2782.1 L1267.7,2784.4 L1271.7,2786.7 L1275.7,2789.1 L1279.7,2791.6 L1283.7,2794.1 L1287.7,2796.6 L1291.7,2799.2 L1295.7,2801.7 L1299.7,2804.3 L1303.7,2807.0 L1307.7,2809.6 L1311.7,2812.2 L1315.7,2814.9 L1319.7,2817.6 L1323.7,2820.2 L1327.7,2822.9 L1331.7,2825.5 L1335.7,2828.2 L1339.7,2830.8 L1343.7,2833.5 L1347.7,2836.1 L1351.7,2838.8 L1355.7,2841.4 L1359.7,2844.0 L1363.7,2846.7 L1367.7,2849.3 L1371.7,2851.9 L1375.7,2854.5 L1379.7,2857.1 L1383.7,2859.7 L1387.7,2862.3 L1391.7,2864.9 L1395.7,2867.5 L1399.7,2870.1 L1403.7,2872.7 L1407.7,2875.2 L1411.7,2877.8 L1415.7,2880.3 L1419.7,2882.8 L1423.7,2885.3 L1427.7,2887.7 L1431.7,2890.1 L1435.7,2892.5 L1439.7,2894.8 L1443.7,2897.1 L1447.7,2899.3 L1451.7,2901.4 L1455.7,2903.5 L1459.7,2905.5 L1463.7,2907.5 L1467.7,2909.4 L1471.7,2911.3 L1475.7,2913.1 L1479.7,2914.9 L1483.7,2916.7 L1487.7,2918.4 L1491.7,2920.0 L1495.7,2921.7 L1499.7,2923.3 L1503.7,2924.8 L1507.7,2926.4 L1511.7,2927.9 L1515.7,2929.4 L1519.7,2930.8 L1523.7,2932.2 L1527.7,2933.6 L1531.7,2935.0 L1535.7,2936.3 L1539.7,2937.6 L1543.7,2938.9 L1547.7,2940.1 L1551.7,2941.4 L1555.7,2942.5 L1559.7,2943.7 L1563.7,2944.8 L1567.7,2945.9 L1571.7,2947.0 L1575.7,2948.1 L1579.7,2949.1 L1583.7,2950.2 L1587.7,2951.2 L1591.7,2952.3 L1595.7,2953.3 L1599.7,2954.3 L1603.7,2955.3 L1607.7,2956.3 L1611.7,2957.3 L1615.7,2958.3 L1619.7,2959.2 L1623.7,2960.2 L1627.7,2961.1 L1631.7,2962.1 L1635.7,2963.0 L1639.7,2964.0 L1643.7,2964.9 L1647.7,2965.8 L1651.7,2966.7 L1655.7,2967.6 L1659.7,2968.6 L1663.7,2969.5 L1667.7,2970.3 L1671.7,2971.2 L1675.7,2972.1 L1679.7,2973.0 L1683.7,2973.9 L1687.7,2974.7 L1691.7,2975.6 L1695.7,2976.4 L1699.7,2977.3 L1703.7,2978.1 L1707.7,2978.9 L1711.7,2979.7 L1715.7,2980.5 L1719.7,2981.3 L1723.7,2982.1 L1727.7,2982.9 L1731.7,2983.7 L1735.7,2984.4 L1739.7,2985.2 L1743.7,2985.9 L1747.7,2986.6 L1751.7,2987.3 L1755.7,2988.0 L1759.7,2988.7 L1763.7,2989.4 L1767.7,2990.0 L1771.7,2990.7 L1775.7,2991.3 L1779.7,2992.0 L1783.7,2992.6 L1787.7,2993.2 L1791.7,2993.8 L1795.7,2994.4 L1799.7,2994.9 L1803.7,2995.5 L1807.7,2996.0 L1811.7,2996.6 L1815.7,2997.1 L1819.7,2997.6 L1823.7,2998.2 L1827.7,2998.7 L1831.7,2999.2 L1835.7,2999.8 L1839.7,3000.3 L1843.7,3000.8 L1847.7,3001.3 L1851.7,3001.9 L1855.7,3002.4 L1859.7,3002.9 L1863.7,3003.5 L1867.7,3004.1 L1871.7,3004.6 L1875.7,3005.2 L1879.7,3005.8 L1883.7,3006.4 L1887.7,3007.0 L1891.7,3007.6 L1895.7,3008.2 L1899.7,3008.9 L1903.7,3009.5 L1907.7,3010.1 L1911.7,3010.8 L1915.7,3011.4 L1919.7,3012.1 L1923.7,3012.8 L1927.7,3013.4 L1931.7,3014.1 L1935.7,3014.8 L1939.7,3015.5 L1943.7,3016.1 L1947.7,3016.8 L1951.7,3017.5 L1955.7,3018.1 L1959.7,3018.8 L1963.7,3019.5 L1967.7,3020.1 L1971.7,3020.8 L1975.7,3021.4 L1979.7,3022.1 L1983.7,3022.8 L1987.7,3023.4 L1991.7,3024.0 L1995.7,3024.7 L1999.7,3025.3 L2003.7,3025.9 L2007.7,3026.6 L2011.7,3027.2 L2015.7,3027.8 L2019.7,3028.4 L2023.7,3029.1 L2027.7,3029.7 L2031.7,3030.3 L2035.7,3030.9 L2039.7,3031.5 L2043.7,3032.1 L2047.7,3032.7 L2051.7,3033.3 L2055.7,3033.9 L2059.7,3034.5 L2063.7,3035.1 L2067.7,3035.7 L2071.7,3036.3 L2075.7,3036.9 L2079.7,3037.5 L2083.7,3038.0 L2087.7,3038.6 L2091.7,3039.1 L2095.7,3039.7 L2099.7,3040.2 L2103.7,3040.8 L2107.7,3041.3 L2111.7,3041.9 L2115.7,3042.4 L2119.7,3042.9 L2123.7,3043.4 L2127.7,3043.9 L2131.7,3044.4 L2135.7,3044.9 L2139.7,3045.4 L2143.7,3045.9 L2147.7,3046.4 L2151.7,3046.9 L2155.7,3047.4 L2159.7,3047.9 L2163.7,3048.4 L2167.7,3048.9 L2171.7,3049.4 L2175.7,3049.9 L2179.7,3050.4 L2183.7,3050.9 L2187.7,3051.4 L2191.7,3051.9 L2195.7,3052.4 L2199.7,3052.9 L2203.7,3053.4 L2207.7,3053.9 L2211.7,3054.4 L2215.7,3054.9 L2219.7,3055.4 L2223.7,3055.9 L2227.7,3056.4 L2231.7,3056.9 L2235.7,3057.4 L2239.7,3058.0 L2243.7,3058.5 L2247.7,3059.0 L2251.7,3059.6 L2255.7,3060.1 L2259.7,3060.6 L2263.7,3061.1 L2267.7,3061.7 L2271.7,3062.2 L2275.7,3062.7 L2279.7,3063.2 L2283.7,3063.7 L2287.7,3064.3 L2291.7,3064.8 L2295.7,3065.2 L2299.7,3065.7 L2303.7,3066.2 L2307.7,3066.6 L2311.7,3067.1 L2315.7,3067.5 L2319.7,3067.8 L2323.7,3068.2 L2327.7,3068.5 L2331.7,3068.8 L2335.7,3069.1 L2339.7,3069.4 L2343.7,3069.6 L2347.7,3069.9 L2351.7,3070.1 L2355.7,3070.3 L2359.7,3070.5 L2363.7,3070.7 L2367.7,3070.9 L2371.7,3071.1 L2375.7,3071.3 L2379.7,3071.5 L2383.7,3071.7 L2387.7,3071.9 L2391.7,3072.1 L2395.7,3072.3 L2399.7,3072.4 L2403.7,3072.6 L2407.7,3072.7 L2411.7,3072.9 L2415.7,3073.0 L2419.7,3073.2 L2423.7,3073.3 L2427.7,3073.4 L2431.7,3073.5 L2435.7,3073.6 L2439.7,3073.6 L2443.7,3073.7 L2447.7,3073.8 L2451.7,3073.8 L2455.7,3073.9 L2459.7,3073.9 L2463.7,3074.0 L2467.7,3074.0 L2471.7,3074.0 L2475.7,3074.1 L2479.7,3074.1 L2483.7,3074.1 L2487.7,3074.2 L2491.7,3074.2 L2495.7,3074.2 L2499.7,3074.3 L2503.7,3074.3 L2507.7,3074.3 L2511.7,3074.3 L2515.7,3074.4 L2519.7,3074.4 L2523.7,3074.4 L2527.7,3074.4 L2531.7,3074.4 L2535.7,3074.5 L2539.7,3074.5 L2543.7,3074.5 L2547.7,3074.5 L2551.7,3074.5 L2555.7,3074.5 L2559.7,3074.6 L2563.7,3074.6 L2567.7,3074.6 L2571.7,3074.6 L2575.7,3074.6 L2579.7,3074.6 L2583.7,3074.6 L2587.7,3074.6 L2591.7,3074.6 L2595.7,3074.6 L2599.7,3074.6 L2603.7,3074.6 L2607.7,3074.6 L2611.7,3074.6 L2615.7,3074.6 L2619.7,3074.6 L2623.7,3074.6 L2627.7,3074.6 L2631.7,3074.6 L2635.7,3074.5 L2639.7,3074.5 L2643.7,3074.5 L2647.7,3074.5 L2651.7,3074.5 L2655.7,3074.5 L2659.7,3074.5 L2663.7,3074.5 L2667.7,3074.5 L2671.7,3074.5 L2675.7,3074.5 L2679.7,3074.5 L2683.7,3074.5 L2687.7,3074.5 L2691.7,3074.6 L2695.7,3074.6 L2699.7,3074.6 L2703.7,3074.7 L2707.7,3074.7 L2711.7,3074.8 L2715.7,3074.8 L2719.7,3074.9 L2723.7,3075.0 L2727.7,3075.1 L2731.7,3075.2 L2735.7,3075.3 L2739.7,3075.4 L2743.7,3075.5 L2747.7,3075.7 L2751.7,3075.8 L2755.7,3076.0 L2759.7,3076.2 L2763.7,3076.3 L2767.7,3076.5 L2771.7,3076.7 L2775.7,3076.9 L2779.7,3077.1 L2783.7,3077.3 L2787.7,3077.5 L2791.7,3077.7 L2795.7,3077.9 L2799.7,3078.1 L2803.7,3078.3 L2807.7,3078.5 L2811.7,3078.7 L2815.7,3078.9 L2819.7,3079.1 L2823.7,3079.3 L2827.7,3079.5 L2831.7,3079.7 L2835.7,3079.9 L2839.7,3080.1 L2843.7,3080.3 L2847.7,3080.5 L2851.7,3080.7 L2855.7,3080.9 L2859.7,3081.1 L2863.7,3081.3 L2867.7,3081.5 L2871.7,3081.7 L2875.7,3081.9 L2879.7,3082.1 L2883.7,3082.3 L2887.7,3082.5 L2891.7,3082.7 L2895.7,3082.9 L2899.7,3083.1 L2903.7,3083.3 L2907.7,3083.5 L2911.7,3083.6 L2915.7,3083.8 L2919.7,3084.0 L2923.7,3084.2 L2927.7,3084.3 L2931.7,3084.5 L2935.7,3084.6 L2939.7,3084.8 L2943.7,3084.9 L2947.7,3085.0 L2951.7,3085.1 L2955.7,3085.2 L2959.7,3085.3 L2963.7,3085.3 L2967.7,3085.4 L2971.7,3085.4 L2975.7,3085.5 L2979.7,3085.5 L2983.7,3085.6 L2987.7,3085.6 L2991.7,3085.6 L2995.7,3085.6 L2999.7,3085.7 L3003.7,3085.7 L3007.7,3085.7 L3011.7,3085.7 L3015.7,3085.7 L3019.7,3085.7 L3023.7,3085.7 L3027.7,3085.7 L3031.7,3085.7 L3035.7,3085.7 L3039.7,3085.7 L3043.7,3085.7 L3047.7,3085.7 L3051.7,3085.7 L3055.7,3085.6 L3059.7,3085.6 L3063.7,3085.6 L3067.7,3085.6 L3071.7,3085.6 L3075.7,3085.5 L3079.7,3085.5 L3083.7,3085.5 L3087.7,3085.4 L3091.7,3085.4 L3095.7,3085.4 L3099.7,3085.3 L3103.7,3085.3 L3107.7,3085.2 L3111.7,3085.2 L3115.7,3085.1 L3119.7,3085.0 L3123.7,3085.0 L3127.7,3084.9 L3131.7,3084.9 L3135.7,3084.8 L3139.7,3084.7 L3143.7,3084.6 L3146.3,3084.6 L3146.3,3086.0Z" fill="#929292"/>
<path d="M14,2407.2 V3118.6" stroke="#1a1a1a" stroke-width="7.4" fill="none"/>
<path d="M14.2,3118.7 H3296.5" stroke="#1a1a1a" stroke-width="7.4" fill="none"/>
<path d="M92.4,3122.4 v15.6" stroke="#333333" stroke-width="7.3" fill="none"/>
<text x="92.4" y="3197.2" font-size="63" fill="#4d4d4d" text-anchor="middle">0</text>
<path d="M1232.8,3122.4 v15.6" stroke="#333333" stroke-width="7.3" fill="none"/>
<text x="1232.8" y="3197.2" font-size="63" fill="#4d4d4d" text-anchor="middle">500</text>
<path d="M2373.2,3122.4 v15.6" stroke="#333333" stroke-width="7.3" fill="none"/>
<text x="2373.2" y="3197.2" font-size="63" fill="#4d4d4d" text-anchor="middle">1000</text>
<g clip-path="url(#pc0)">
<g fill="none" stroke="#d7d7d7" stroke-width="3.9">
<circle cx="191.7" cy="356.0" r="34.8"/>
<circle cx="191.7" cy="356.0" r="69.6"/>
<circle cx="191.7" cy="356.0" r="104.4"/>
<circle cx="191.7" cy="356.0" r="139.2"/>
<circle cx="191.7" cy="356.0" r="159"/>
<path d="M191.7,356.0 L191.7,197.0"/>
<path d="M191.7,356.0 L252.5,209.1"/>
<path d="M191.7,356.0 L304.1,243.6"/>
<path d="M191.7,356.0 L338.6,295.2"/>
<path d="M191.7,356.0 L350.7,356.0"/>
<path d="M191.7,356.0 L338.6,416.8"/>
<path d="M191.7,356.0 L304.1,468.4"/>
<path d="M191.7,356.0 L252.5,502.9"/>
<path d="M191.7,356.0 L191.7,515.0"/>
<path d="M191.7,356.0 L130.9,502.9"/>
<path d="M191.7,356.0 L79.3,468.4"/>
<path d="M191.7,356.0 L44.8,416.8"/>
<path d="M191.7,356.0 L32.7,356.0"/>
<path d="M191.7,356.0 L44.8,295.2"/>
<path d="M191.7,356.0 L79.3,243.6"/>
<path d="M191.7,356.0 L130.9,209.1"/>
</g>
<g fill="#301e0f" stroke="#ffffff" stroke-opacity="0.10" stroke-width="0.6">
<path d="M191.7,356.0 L179.3,214.2 A142.3,142.3 0 0 1 204.1,214.2Z"/>
<path d="M191.7,356.0 L204.0,215.8 A140.7,140.7 0 0 1 228.1,220.1Z"/>
<path d="M191.7,356.0 L226.2,227.1 A133.4,133.4 0 0 1 248.1,235.1Z"/>
<path d="M191.7,356.0 L245.5,240.5 A127.4,127.4 0 0 1 264.8,251.6Z"/>
<path d="M191.7,356.0 L262.0,255.7 A122.5,122.5 0 0 1 278.3,269.4Z"/>
<path d="M191.7,356.0 L273.5,274.2 A115.7,115.7 0 0 1 286.5,289.6Z"/>
<path d="M191.7,356.0 L284.0,291.4 A112.7,112.7 0 0 1 293.8,308.4Z"/>
<path d="M191.7,356.0 L287.0,311.5 A105.2,105.2 0 0 1 293.3,328.8Z"/>
<path d="M191.7,356.0 L287.3,330.4 A99.0,99.0 0 0 1 290.3,347.4Z"/>
<path d="M191.7,356.0 L286.0,347.7 A94.7,94.7 0 0 1 286.0,364.3Z"/>
<path d="M191.7,356.0 L281.6,363.9 A90.2,90.2 0 0 1 278.8,379.3Z"/>
<path d="M191.7,356.0 L271.7,377.4 A82.8,82.8 0 0 1 266.7,391.0Z"/>
<path d="M191.7,356.0 L262.6,389.0 A78.2,78.2 0 0 1 255.8,400.9Z"/>
<path d="M191.7,356.0 L250.6,397.2 A71.9,71.9 0 0 1 242.5,406.8Z"/>
<path d="M191.7,356.0 L237.4,401.7 A64.7,64.7 0 0 1 228.8,409.0Z"/>
<path d="M191.7,356.0 L224.8,403.3 A57.7,57.7 0 0 1 216.1,408.3Z"/>
<path d="M191.7,356.0 L213.8,403.4 A52.3,52.3 0 0 1 205.2,406.5Z"/>
<path d="M191.7,356.0 L203.9,401.4 A47.0,47.0 0 0 1 195.8,402.8Z"/>
<path d="M191.7,356.0 L155.7,221.7 A139.0,139.0 0 0 1 179.6,217.5Z"/>
<path d="M191.7,356.0 L136.1,236.8 A131.5,131.5 0 0 1 157.7,229.0Z"/>
<path d="M191.7,356.0 L118.1,250.8 A128.4,128.4 0 0 1 137.4,239.6Z"/>
<path d="M191.7,356.0 L106.5,270.8 A120.5,120.5 0 0 1 122.6,257.3Z"/>
<path d="M191.7,356.0 L97.6,290.1 A114.9,114.9 0 0 1 110.5,274.8Z"/>
<path d="M191.7,356.0 L91.6,309.3 A110.5,110.5 0 0 1 101.2,292.6Z"/>
<path d="M191.7,356.0 L95.3,330.2 A99.8,99.8 0 0 1 101.3,313.8Z"/>
<path d="M191.7,356.0 L96.4,347.7 A95.7,95.7 0 0 1 99.3,331.2Z"/>
<path d="M191.7,356.0 L99.9,364.0 A92.2,92.2 0 0 1 99.9,348.0Z"/>
<path d="M191.7,356.0 L108.7,378.2 A85.9,85.9 0 0 1 106.1,363.5Z"/>
<path d="M191.7,356.0 L119.0,389.9 A80.2,80.2 0 0 1 114.2,376.8Z"/>
<path d="M191.7,356.0 L131.6,398.1 A73.4,73.4 0 0 1 125.2,387.0Z"/>
<path d="M191.7,356.0 L143.1,404.6 A68.8,68.8 0 0 1 135.3,395.5Z"/>
<path d="M191.7,356.0 L157.0,405.6 A60.5,60.5 0 0 1 148.9,398.8Z"/>
<path d="M191.7,356.0 L167.5,407.9 A57.3,57.3 0 0 1 158.8,402.9Z"/>
<path d="M191.7,356.0 L178.8,404.0 A49.7,49.7 0 0 1 170.7,401.0Z"/>
<path d="M191.7,356.0 L187.8,400.7 A44.9,44.9 0 0 1 180.1,399.4Z"/>
</g>
<g font-size="40.5" fill="#1a1a1a">
<text x="191.6" y="211.0" text-anchor="middle">0</text>
<text x="304.6" y="257.7" text-anchor="middle">45</text>
<text x="78.6" y="257.7" text-anchor="middle">−45</text>
<text x="329.2" y="370.7">90</text>
<text x="67" y="370.7" text-anchor="end">−90</text>
<text x="305.4" y="483.6" text-anchor="middle">135</text>
<text x="79.2" y="483.6" text-anchor="middle">−135</text>
<text x="192.3" y="530.1" text-anchor="middle">180</text>
</g>
</g>
<g clip-path="url(#pc1)">
<g fill="none" stroke="#d7d7d7" stroke-width="3.9">
<circle cx="191.7" cy="1167.3" r="40.3"/>
<circle cx="191.7" cy="1167.3" r="80.6"/>
<circle cx="191.7" cy="1167.3" r="120.9"/>
<circle cx="191.7" cy="1167.3" r="159"/>
<path d="M191.7,1167.3 L191.7,1008.3"/>
<path d="M191.7,1167.3 L252.5,1020.4"/>
<path d="M191.7,1167.3 L304.1,1054.9"/>
<path d="M191.7,1167.3 L338.6,1106.5"/>
<path d="M191.7,1167.3 L350.7,1167.3"/>
<path d="M191.7,1167.3 L338.6,1228.1"/>
<path d="M191.7,1167.3 L304.1,1279.7"/>
<path d="M191.7,1167.3 L252.5,1314.2"/>
<path d="M191.7,1167.3 L191.7,1326.3"/>
<path d="M191.7,1167.3 L130.9,1314.2"/>
<path d="M191.7,1167.3 L79.3,1279.7"/>
<path d="M191.7,1167.3 L44.8,1228.1"/>
<path d="M191.7,1167.3 L32.7,1167.3"/>
<path d="M191.7,1167.3 L44.8,1106.5"/>
<path d="M191.7,1167.3 L79.3,1054.9"/>
<path d="M191.7,1167.3 L130.9,1020.4"/>
</g>
<g fill="#96591e" stroke="#ffffff" stroke-opacity="0.10" stroke-width="0.6">
<path d="M191.7,1167.3 L179.4,1026.1 A141.7,141.7 0 0 1 204.0,1026.1Z"/>
<path d="M191.7,1167.3 L204.0,1026.8 A141.0,141.0 0 0 1 228.2,1031.1Z"/>
<path d="M191.7,1167.3 L226.4,1037.8 A134.1,134.1 0 0 1 248.4,1045.8Z"/>
<path d="M191.7,1167.3 L245.8,1051.3 A128.0,128.0 0 0 1 265.1,1062.4Z"/>
<path d="M191.7,1167.3 L261.1,1068.2 A121.0,121.0 0 0 1 277.3,1081.7Z"/>
<path d="M191.7,1167.3 L274.1,1084.9 A116.5,116.5 0 0 1 287.1,1100.5Z"/>
<path d="M191.7,1167.3 L283.0,1103.3 A111.5,111.5 0 0 1 292.8,1120.2Z"/>
<path d="M191.7,1167.3 L286.4,1123.1 A104.5,104.5 0 0 1 292.6,1140.3Z"/>
<path d="M191.7,1167.3 L284.9,1142.3 A96.5,96.5 0 0 1 287.8,1158.9Z"/>
<path d="M191.7,1167.3 L282.8,1159.3 A91.4,91.4 0 0 1 282.8,1175.3Z"/>
<path d="M191.7,1167.3 L276.6,1174.7 A85.2,85.2 0 0 1 274.0,1189.4Z"/>
<path d="M191.7,1167.3 L268.4,1187.9 A79.4,79.4 0 0 1 263.7,1200.9Z"/>
<path d="M191.7,1167.3 L258.2,1198.3 A73.4,73.4 0 0 1 251.8,1209.4Z"/>
<path d="M191.7,1167.3 L246.6,1205.7 A67.0,67.0 0 0 1 239.1,1214.7Z"/>
<path d="M191.7,1167.3 L234.6,1210.2 A60.6,60.6 0 0 1 226.5,1216.9Z"/>
<path d="M191.7,1167.3 L221.4,1209.7 A51.7,51.7 0 0 1 213.5,1214.2Z"/>
<path d="M191.7,1167.3 L210.9,1208.4 A45.4,45.4 0 0 1 203.5,1211.2Z"/>
<path d="M191.7,1167.3 L202.2,1206.5 A40.6,40.6 0 0 1 195.2,1207.7Z"/>
<path d="M191.7,1167.3 L155.4,1031.7 A140.4,140.4 0 0 1 179.5,1027.4Z"/>
<path d="M191.7,1167.3 L135.7,1047.1 A132.6,132.6 0 0 1 157.4,1039.2Z"/>
<path d="M191.7,1167.3 L117.0,1060.6 A130.2,130.2 0 0 1 136.7,1049.3Z"/>
<path d="M191.7,1167.3 L105.0,1080.6 A122.6,122.6 0 0 1 121.4,1066.9Z"/>
<path d="M191.7,1167.3 L94.6,1099.3 A118.5,118.5 0 0 1 107.9,1083.5Z"/>
<path d="M191.7,1167.3 L93.1,1121.3 A108.8,108.8 0 0 1 102.6,1104.9Z"/>
<path d="M191.7,1167.3 L93.9,1141.1 A101.2,101.2 0 0 1 100.0,1124.5Z"/>
<path d="M191.7,1167.3 L94.0,1158.8 A98.1,98.1 0 0 1 96.9,1141.9Z"/>
<path d="M191.7,1167.3 L101.1,1175.2 A90.9,90.9 0 0 1 101.1,1159.4Z"/>
<path d="M191.7,1167.3 L110.9,1189.0 A83.7,83.7 0 0 1 108.3,1174.6Z"/>
<path d="M191.7,1167.3 L121.8,1199.9 A77.1,77.1 0 0 1 117.2,1187.3Z"/>
<path d="M191.7,1167.3 L133.6,1208.0 A70.9,70.9 0 0 1 127.4,1197.3Z"/>
<path d="M191.7,1167.3 L146.4,1212.6 A64.0,64.0 0 0 1 139.3,1204.0Z"/>
<path d="M191.7,1167.3 L158.5,1214.7 A57.9,57.9 0 0 1 150.8,1208.2Z"/>
<path d="M191.7,1167.3 L170.4,1213.1 A50.5,50.5 0 0 1 162.7,1208.7Z"/>
<path d="M191.7,1167.3 L180.2,1210.4 A44.6,44.6 0 0 1 172.9,1207.7Z"/>
<path d="M191.7,1167.3 L188.0,1209.0 A41.9,41.9 0 0 1 180.9,1207.8Z"/>
</g>
<g font-size="40.5" fill="#1a1a1a">
<text x="191.6" y="1022.3" text-anchor="middle">0</text>
<text x="304.6" y="1069.0" text-anchor="middle">45</text>
<text x="78.6" y="1069.0" text-anchor="middle">−45</text>
<text x="329.2" y="1182.0">90</text>
<text x="67" y="1182.0" text-anchor="end">−90</text>
<text x="305.4" y="1294.9" text-anchor="middle">135</text>
<text x="79.2" y="1294.9" text-anchor="middle">−135</text>
<text x="192.3" y="1341.4" text-anchor="middle">180</text>
</g>
</g>
<g clip-path="url(#pc2)">
<g fill="none" stroke="#d7d7d7" stroke-width="3.9">
<circle cx="191.7" cy="1978.6" r="25.6"/>
<circle cx="191.7" cy="1978.6" r="51.2"/>
<circle cx="191.7" cy="1978.6" r="76.8"/>
<circle cx="191.7" cy="1978.6" r="102.4"/>
<circle cx="191.7" cy="1978.6" r="128.0"/>
<circle cx="191.7" cy="1978.6" r="159"/>
<path d="M191.7,1978.6 L191.7,1819.6"/>
<path d="M191.7,1978.6 L252.5,1831.7"/>
<path d="M191.7,1978.6 L304.1,1866.2"/>
<path d="M191.7,1978.6 L338.6,1917.8"/>
<path d="M191.7,1978.6 L350.7,1978.6"/>
<path d="M191.7,1978.6 L338.6,2039.4"/>
<path d="M191.7,1978.6 L304.1,2091.0"/>
<path d="M191.7,1978.6 L252.5,2125.5"/>
<path d="M191.7,1978.6 L191.7,2137.6"/>
<path d="M191.7,1978.6 L130.9,2125.5"/>
<path d="M191.7,1978.6 L79.3,2091.0"/>
<path d="M191.7,1978.6 L44.8,2039.4"/>
<path d="M191.7,1978.6 L32.7,1978.6"/>
<path d="M191.7,1978.6 L44.8,1917.8"/>
<path d="M191.7,1978.6 L79.3,1866.2"/>
<path d="M191.7,1978.6 L130.9,1831.7"/>
</g>
<g fill="#e87b12" stroke="#ffffff" stroke-opacity="0.10" stroke-width="0.6">
<path d="M191.7,1978.6 L179.3,1837.2 A141.9,141.9 0 0 1 204.1,1837.2Z"/>
<path d="M191.7,1978.6 L203.9,1839.6 A139.5,139.5 0 0 1 227.8,1843.9Z"/>
<path d="M191.7,1978.6 L225.2,1853.6 A129.4,129.4 0 0 1 246.4,1861.3Z"/>
<path d="M191.7,1978.6 L244.3,1865.8 A124.5,124.5 0 0 1 263.1,1876.6Z"/>
<path d="M191.7,1978.6 L261.5,1878.9 A121.7,121.7 0 0 1 277.8,1892.5Z"/>
<path d="M191.7,1978.6 L275.1,1895.2 A117.9,117.9 0 0 1 288.3,1911.0Z"/>
<path d="M191.7,1978.6 L283.8,1914.1 A112.4,112.4 0 0 1 293.6,1931.1Z"/>
<path d="M191.7,1978.6 L285.8,1934.7 A103.8,103.8 0 0 1 292.0,1951.7Z"/>
<path d="M191.7,1978.6 L287.5,1952.9 A99.2,99.2 0 0 1 290.5,1970.0Z"/>
<path d="M191.7,1978.6 L283.0,1970.6 A91.6,91.6 0 0 1 283.0,1986.6Z"/>
<path d="M191.7,1978.6 L280.8,1986.4 A89.4,89.4 0 0 1 278.1,2001.7Z"/>
<path d="M191.7,1978.6 L271.5,2000.0 A82.6,82.6 0 0 1 266.6,2013.5Z"/>
<path d="M191.7,1978.6 L259.9,2010.4 A75.3,75.3 0 0 1 253.4,2021.8Z"/>
<path d="M191.7,1978.6 L250.4,2019.7 A71.7,71.7 0 0 1 242.4,2029.3Z"/>
<path d="M191.7,1978.6 L236.2,2023.1 A63.0,63.0 0 0 1 227.8,2030.2Z"/>
<path d="M191.7,1978.6 L224.6,2025.6 A57.4,57.4 0 0 1 216.0,2030.6Z"/>
<path d="M191.7,1978.6 L213.0,2024.2 A50.3,50.3 0 0 1 204.7,2027.2Z"/>
<path d="M191.7,1978.6 L202.9,2020.4 A43.3,43.3 0 0 1 195.5,2021.7Z"/>
<path d="M191.7,1978.6 L155.8,1844.7 A138.6,138.6 0 0 1 179.6,1840.5Z"/>
<path d="M191.7,1978.6 L136.0,1859.1 A131.9,131.9 0 0 1 157.6,1851.2Z"/>
<path d="M191.7,1978.6 L120.0,1876.2 A125.0,125.0 0 0 1 138.9,1865.3Z"/>
<path d="M191.7,1978.6 L108.4,1895.3 A117.8,117.8 0 0 1 124.1,1882.1Z"/>
<path d="M191.7,1978.6 L98.3,1913.2 A114.0,114.0 0 0 1 111.1,1898.0Z"/>
<path d="M191.7,1978.6 L94.3,1933.2 A107.5,107.5 0 0 1 103.6,1916.9Z"/>
<path d="M191.7,1978.6 L93.2,1952.2 A102.0,102.0 0 0 1 99.3,1935.5Z"/>
<path d="M191.7,1978.6 L93.8,1970.0 A98.3,98.3 0 0 1 96.7,1953.2Z"/>
<path d="M191.7,1978.6 L100.9,1986.5 A91.1,91.1 0 0 1 100.9,1970.7Z"/>
<path d="M191.7,1978.6 L108.6,2000.9 A86.0,86.0 0 0 1 106.0,1986.1Z"/>
<path d="M191.7,1978.6 L120.2,2011.9 A78.9,78.9 0 0 1 115.5,1999.0Z"/>
<path d="M191.7,1978.6 L131.3,2020.9 A73.7,73.7 0 0 1 124.9,2009.7Z"/>
<path d="M191.7,1978.6 L145.7,2024.6 A65.0,65.0 0 0 1 138.5,2015.9Z"/>
<path d="M191.7,1978.6 L156.4,2029.1 A61.6,61.6 0 0 1 148.1,2022.2Z"/>
<path d="M191.7,1978.6 L168.2,2029.0 A55.6,55.6 0 0 1 159.8,2024.1Z"/>
<path d="M191.7,1978.6 L179.6,2023.6 A46.6,46.6 0 0 1 172.0,2020.8Z"/>
<path d="M191.7,1978.6 L188.0,2020.3 A41.9,41.9 0 0 1 180.9,2019.1Z"/>
</g>
<g font-size="40.5" fill="#1a1a1a">
<text x="191.6" y="1833.6" text-anchor="middle">0</text>
<text x="304.6" y="1880.3" text-anchor="middle">45</text>
<text x="78.6" y="1880.3" text-anchor="middle">−45</text>
<text x="329.2" y="1993.3">90</text>
<text x="67" y="1993.3" text-anchor="end">−90</text>
<text x="305.4" y="2106.2" text-anchor="middle">135</text>
<text x="79.2" y="2106.2" text-anchor="middle">−135</text>
<text x="192.3" y="2152.7" text-anchor="middle">180</text>
</g>
</g>
<text x="17" y="71.2" font-size="83.5" font-weight="bold" font-style="italic" fill="#301e0f">0 – Shelter</text>
<text x="17" y="882.5" font-size="83.5" font-weight="bold" font-style="italic" fill="#96591e">1 – Explore</text>
<text x="17" y="1693.8" font-size="83.5" font-weight="bold" font-style="italic" fill="#e87b12">2 – Forage</text>
<text x="16" y="165.6" font-size="55" font-weight="bold" fill="#1a1a1a">Turn angle (°)</text>
<text x="3296" y="2317.3" font-size="69" font-weight="bold" fill="#1a1a1a" text-anchor="end">Step Length (m)</text>
<text x="3298.3" y="3278.7" font-size="69" font-weight="bold" fill="#1a1a1a" text-anchor="end">Destination range (m)</text>
</svg>
</body></html>
